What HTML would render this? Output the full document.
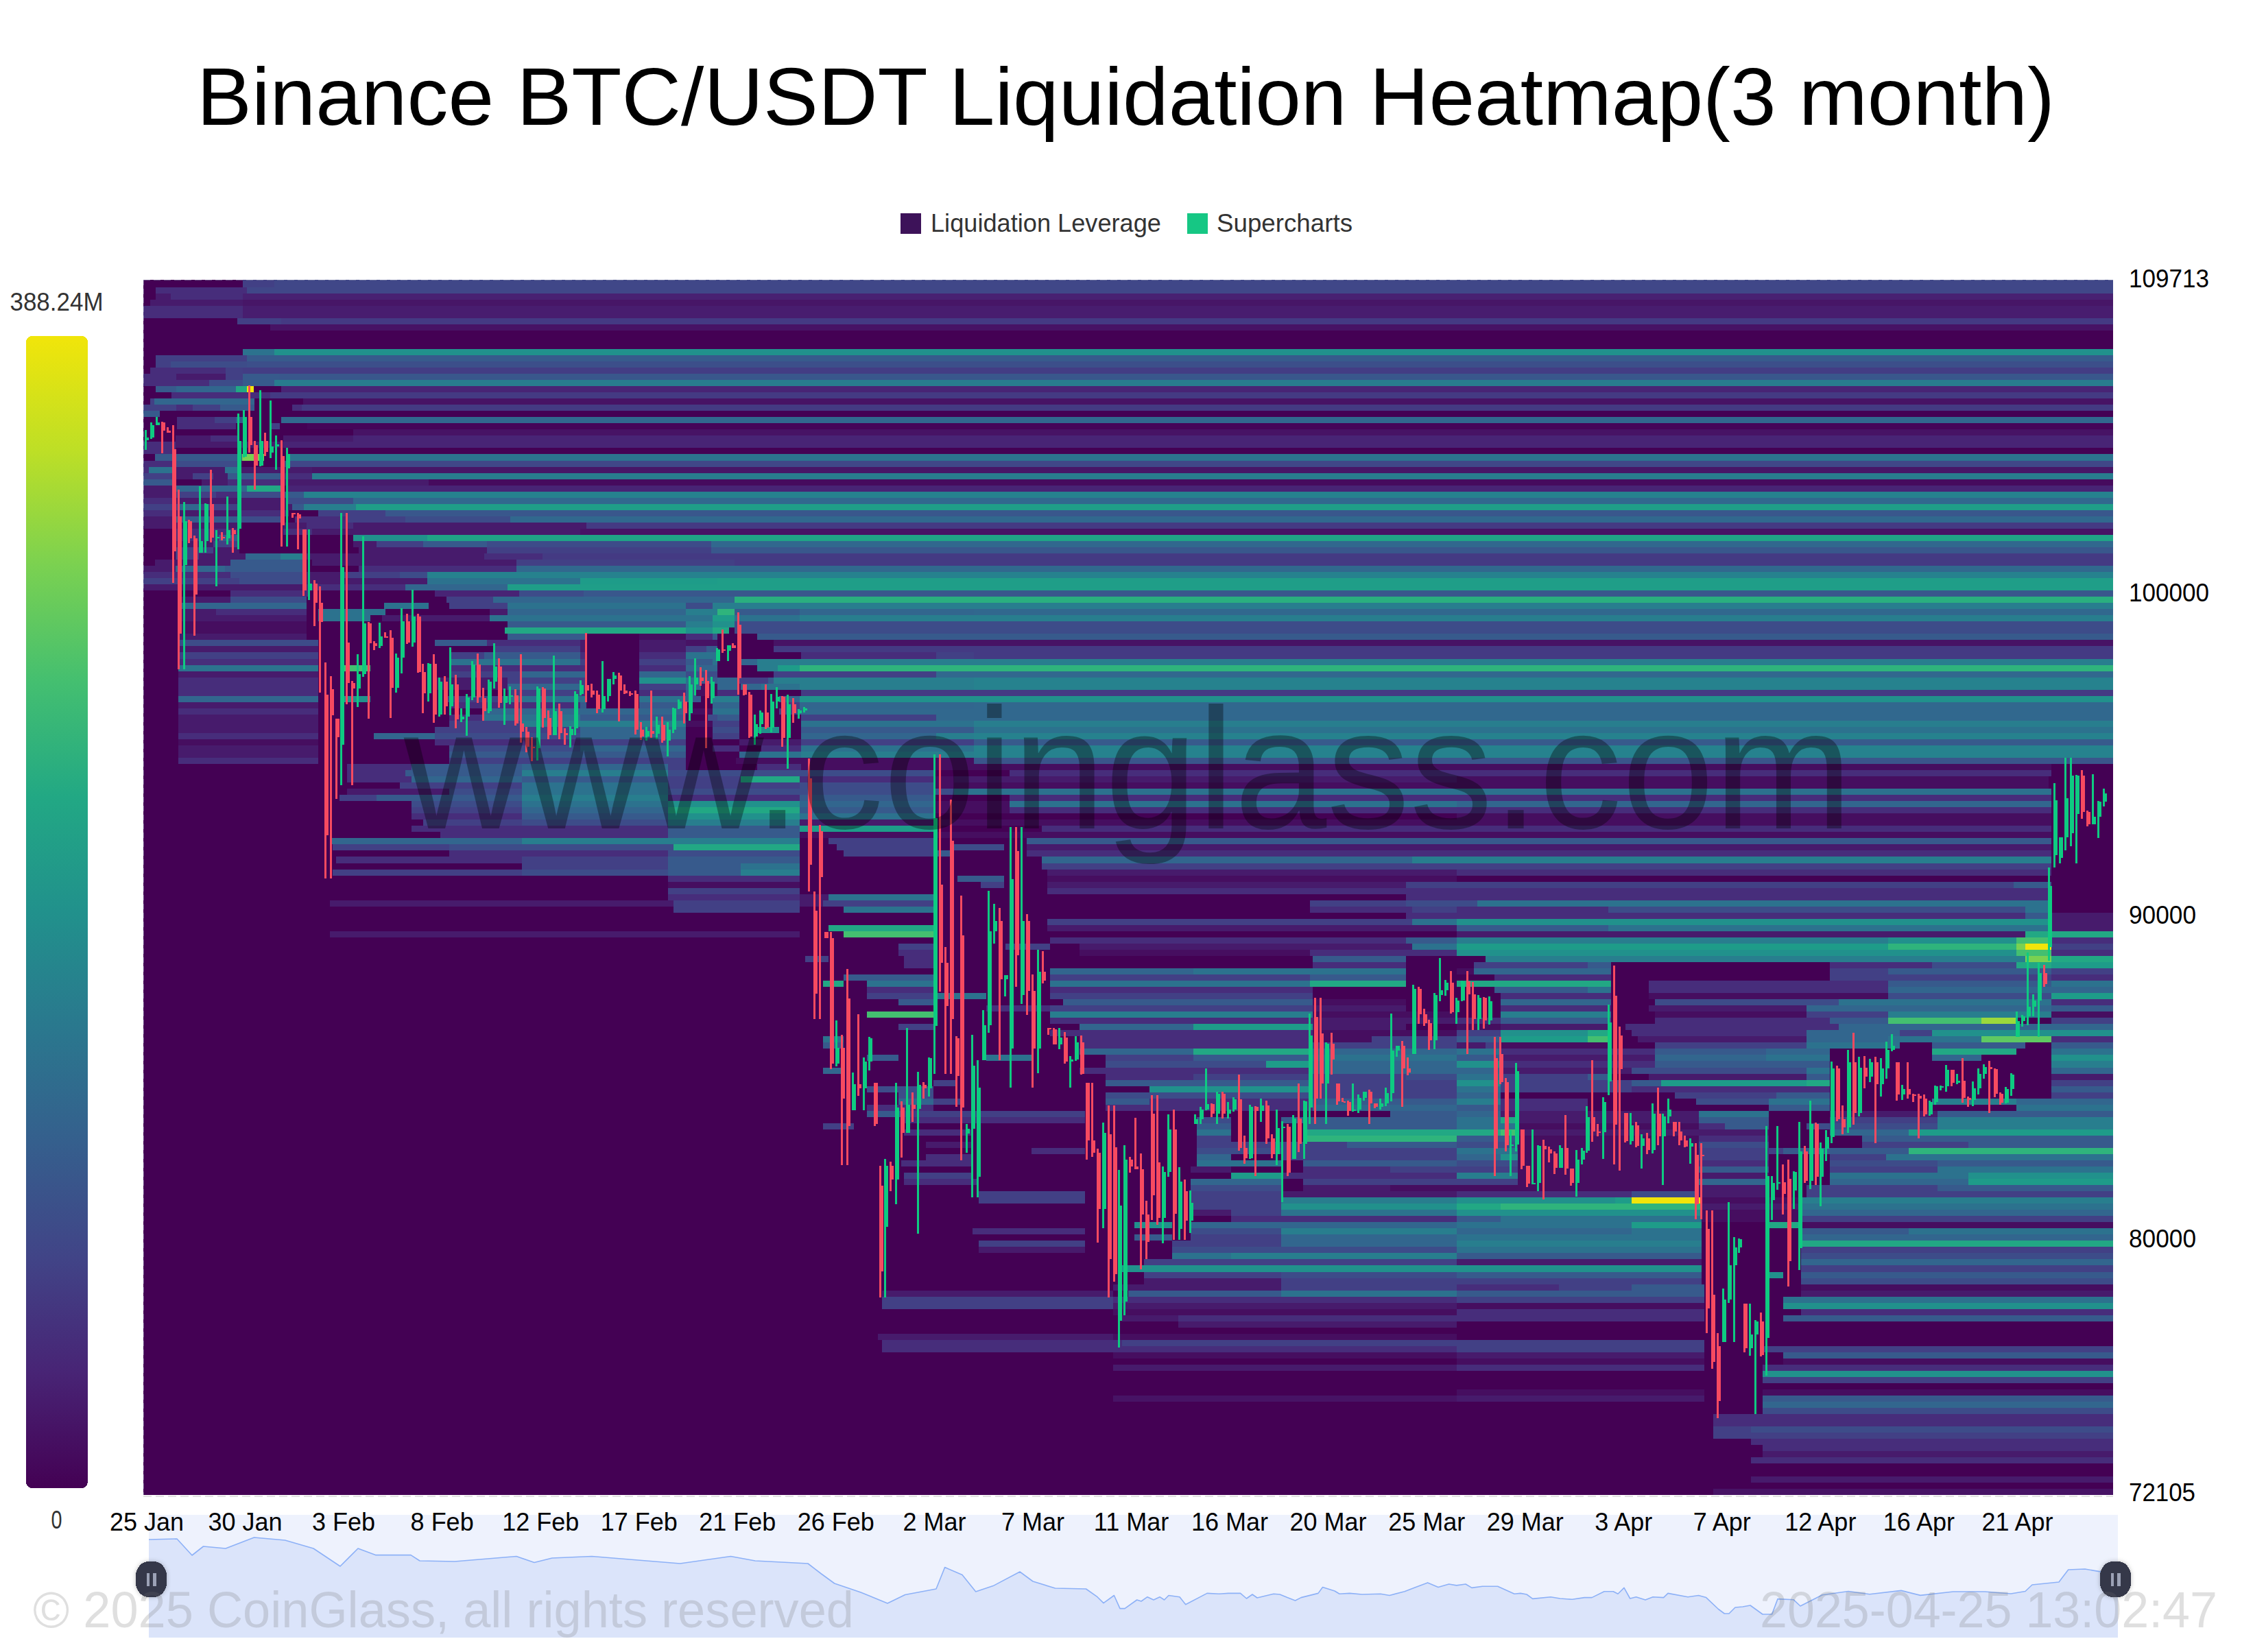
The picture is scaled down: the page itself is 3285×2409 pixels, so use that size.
<!DOCTYPE html>
<html><head><meta charset="utf-8"><style>html,body{margin:0;padding:0;background:#fff;width:3285px;height:2409px;overflow:hidden}svg{display:block}text{font-family:"Liberation Sans",sans-serif;shape-rendering:auto}</style></head>
<body><svg width="3285" height="2409" viewBox="0 0 3285 2409" font-family="Liberation Sans, sans-serif" shape-rendering="crispEdges"><text x="287" y="181.8" font-size="119" fill="#000" text-anchor="start" textLength="2709" lengthAdjust="spacingAndGlyphs" >Binance BTC/USDT Liquidation Heatmap(3 month)</text>
<rect x="1313" y="311" width="30" height="30" fill="#3d1259"/>
<text x="1357" y="338" font-size="37.5" fill="#333" text-anchor="start" textLength="336" lengthAdjust="spacingAndGlyphs" >Liquidation Leverage</text>
<rect x="1731" y="311" width="30" height="30" fill="#16c784"/>
<text x="1774" y="338" font-size="37.5" fill="#333" text-anchor="start" textLength="198" lengthAdjust="spacingAndGlyphs" >Supercharts</text>
<text x="14.5" y="453" font-size="37" fill="#333" text-anchor="start" textLength="136" lengthAdjust="spacingAndGlyphs" >388.24M</text>
<text x="74.6" y="2228.5" font-size="37" fill="#333" text-anchor="start" textLength="16" lengthAdjust="spacingAndGlyphs" >0</text>
<defs><linearGradient id="cb" x1="0" y1="0" x2="0" y2="1"><stop offset="0.00" stop-color="#f1e50a"/><stop offset="0.10" stop-color="#bddf26"/><stop offset="0.20" stop-color="#7ad151"/><stop offset="0.30" stop-color="#44bf70"/><stop offset="0.40" stop-color="#22a884"/><stop offset="0.50" stop-color="#21918c"/><stop offset="0.60" stop-color="#2a788e"/><stop offset="0.70" stop-color="#355f8d"/><stop offset="0.80" stop-color="#414487"/><stop offset="0.90" stop-color="#482475"/><stop offset="1.00" stop-color="#440154"/></linearGradient></defs>
<defs><filter id="hs" x="-50%" y="-50%" width="200%" height="200%"><feDropShadow dx="0" dy="0" stdDeviation="3" flood-color="#000" flood-opacity="0.25"/></filter></defs>
<rect x="38" y="490" width="90" height="1680" rx="9" fill="url(#cb)"/>
<rect x="209" y="408" width="2872" height="1771.6" fill="#440154"/>
<rect x="354.0" y="408.00" width="46.0" height="1.64" fill="#424085"/>
<rect x="400.0" y="408.00" width="2681.0" height="1.64" fill="#404788"/>
<rect x="354.0" y="409.64" width="46.0" height="9.03" fill="#424085"/>
<rect x="400.0" y="409.64" width="2681.0" height="9.03" fill="#404788"/>
<rect x="227.0" y="418.67" width="133.0" height="9.03" fill="#472d7b"/>
<rect x="360.0" y="418.67" width="2721.0" height="9.03" fill="#404788"/>
<rect x="227.0" y="427.70" width="22.0" height="9.03" fill="#471b6c"/>
<rect x="249.0" y="427.70" width="105.0" height="9.03" fill="#472d7b"/>
<rect x="354.0" y="427.70" width="2727.0" height="9.03" fill="#482172"/>
<rect x="219.0" y="436.73" width="135.0" height="9.03" fill="#471b6c"/>
<rect x="354.0" y="436.73" width="2727.0" height="9.03" fill="#471667"/>
<rect x="209.0" y="445.76" width="145.0" height="9.03" fill="#472d7b"/>
<rect x="354.0" y="445.76" width="2727.0" height="9.03" fill="#481d6f"/>
<rect x="209.0" y="454.79" width="145.0" height="9.03" fill="#472d7b"/>
<rect x="354.0" y="454.79" width="2727.0" height="9.03" fill="#481d6f"/>
<rect x="346.0" y="463.82" width="64.0" height="9.03" fill="#424085"/>
<rect x="410.0" y="463.82" width="2671.0" height="9.03" fill="#443a83"/>
<rect x="394.0" y="472.85" width="2687.0" height="9.03" fill="#471365"/>
<rect x="354.0" y="508.98" width="46.0" height="9.03" fill="#2c728e"/>
<rect x="400.0" y="508.98" width="2681.0" height="9.03" fill="#21918c"/>
<rect x="227.0" y="518.01" width="133.0" height="9.03" fill="#424085"/>
<rect x="360.0" y="518.01" width="2721.0" height="9.03" fill="#375a8c"/>
<rect x="227.0" y="527.04" width="22.0" height="9.03" fill="#424085"/>
<rect x="249.0" y="527.04" width="111.0" height="9.03" fill="#3d4c89"/>
<rect x="360.0" y="527.04" width="2721.0" height="9.03" fill="#3c4f8a"/>
<rect x="219.0" y="536.07" width="110.0" height="9.03" fill="#472d7b"/>
<rect x="329.0" y="536.07" width="25.0" height="9.03" fill="#424085"/>
<rect x="354.0" y="536.07" width="2727.0" height="9.03" fill="#433d84"/>
<rect x="209.0" y="545.10" width="48.0" height="9.03" fill="#472d7b"/>
<rect x="257.0" y="545.10" width="72.0" height="9.03" fill="#471b6c"/>
<rect x="329.0" y="545.10" width="25.0" height="9.03" fill="#424085"/>
<rect x="354.0" y="545.10" width="54.0" height="9.03" fill="#375a8c"/>
<rect x="408.0" y="545.10" width="2673.0" height="9.03" fill="#39578c"/>
<rect x="209.0" y="554.13" width="96.0" height="9.03" fill="#472d7b"/>
<rect x="305.0" y="554.13" width="49.0" height="9.03" fill="#3d4c89"/>
<rect x="354.0" y="554.13" width="46.0" height="9.03" fill="#375a8c"/>
<rect x="400.0" y="554.13" width="2681.0" height="9.03" fill="#287c8e"/>
<rect x="227.0" y="563.16" width="30.0" height="9.03" fill="#375a8c"/>
<rect x="257.0" y="563.16" width="87.0" height="9.03" fill="#32668e"/>
<rect x="344.0" y="563.16" width="16.0" height="9.03" fill="#22a884"/>
<rect x="360.0" y="563.16" width="10.0" height="9.03" fill="#f1e50a"/>
<rect x="410.0" y="563.16" width="2671.0" height="9.03" fill="#482475"/>
<rect x="250.0" y="572.19" width="144.0" height="9.03" fill="#472d7b"/>
<rect x="394.0" y="572.19" width="2687.0" height="9.03" fill="#443a83"/>
<rect x="219.0" y="581.22" width="6.0" height="9.03" fill="#424085"/>
<rect x="225.0" y="581.22" width="146.0" height="9.03" fill="#32668e"/>
<rect x="442.0" y="581.22" width="2639.0" height="9.03" fill="#471365"/>
<rect x="209.0" y="590.25" width="48.0" height="9.03" fill="#424085"/>
<rect x="257.0" y="590.25" width="24.0" height="9.03" fill="#472d7b"/>
<rect x="281.0" y="590.25" width="40.0" height="9.03" fill="#424085"/>
<rect x="321.0" y="590.25" width="50.0" height="9.03" fill="#375a8c"/>
<rect x="426.0" y="590.25" width="14.0" height="9.03" fill="#472d7b"/>
<rect x="440.0" y="590.25" width="2641.0" height="9.03" fill="#443a83"/>
<rect x="209.0" y="599.28" width="24.0" height="9.03" fill="#375a8c"/>
<rect x="258.0" y="608.31" width="55.0" height="9.03" fill="#472d7b"/>
<rect x="313.0" y="608.31" width="31.0" height="9.03" fill="#424085"/>
<rect x="344.0" y="608.31" width="10.0" height="9.03" fill="#375a8c"/>
<rect x="410.0" y="608.31" width="2671.0" height="9.03" fill="#31688e"/>
<rect x="258.0" y="617.34" width="86.0" height="9.03" fill="#472d7b"/>
<rect x="394.0" y="617.34" width="14.0" height="9.03" fill="#424085"/>
<rect x="448.0" y="617.34" width="2633.0" height="9.03" fill="#450659"/>
<rect x="515.0" y="626.37" width="2566.0" height="9.03" fill="#471365"/>
<rect x="256.0" y="635.40" width="51.0" height="9.03" fill="#471b6c"/>
<rect x="307.0" y="635.40" width="42.0" height="9.03" fill="#472d7b"/>
<rect x="413.0" y="635.40" width="102.0" height="9.03" fill="#471b6c"/>
<rect x="515.0" y="635.40" width="2566.0" height="9.03" fill="#482475"/>
<rect x="209.0" y="644.43" width="47.0" height="9.03" fill="#472d7b"/>
<rect x="256.0" y="644.43" width="157.0" height="9.03" fill="#471b6c"/>
<rect x="413.0" y="644.43" width="2668.0" height="9.03" fill="#482475"/>
<rect x="209.0" y="653.46" width="47.0" height="9.03" fill="#472d7b"/>
<rect x="226.0" y="662.49" width="127.0" height="9.03" fill="#375a8c"/>
<rect x="353.0" y="662.49" width="32.0" height="9.03" fill="#7ad151"/>
<rect x="417.0" y="662.49" width="2664.0" height="9.03" fill="#2c728e"/>
<rect x="209.0" y="671.52" width="47.0" height="9.03" fill="#472d7b"/>
<rect x="256.0" y="671.52" width="93.0" height="9.03" fill="#3d4c89"/>
<rect x="413.0" y="671.52" width="2668.0" height="9.03" fill="#404788"/>
<rect x="209.0" y="680.55" width="8.0" height="9.03" fill="#472d7b"/>
<rect x="217.0" y="680.55" width="39.0" height="9.03" fill="#2c728e"/>
<rect x="256.0" y="680.55" width="72.0" height="9.03" fill="#471b6c"/>
<rect x="328.0" y="680.55" width="21.0" height="9.03" fill="#2c728e"/>
<rect x="349.0" y="680.55" width="106.0" height="9.03" fill="#471b6c"/>
<rect x="455.0" y="680.55" width="2626.0" height="9.03" fill="#471667"/>
<rect x="209.0" y="689.58" width="47.0" height="9.03" fill="#424085"/>
<rect x="256.0" y="689.58" width="25.0" height="9.03" fill="#471b6c"/>
<rect x="281.0" y="689.58" width="30.0" height="9.03" fill="#424085"/>
<rect x="311.0" y="689.58" width="21.0" height="9.03" fill="#471b6c"/>
<rect x="332.0" y="689.58" width="77.0" height="9.03" fill="#375a8c"/>
<rect x="409.0" y="689.58" width="46.0" height="9.03" fill="#472d7b"/>
<rect x="455.0" y="689.58" width="2626.0" height="9.03" fill="#287c8e"/>
<rect x="209.0" y="698.61" width="47.0" height="9.03" fill="#375a8c"/>
<rect x="294.0" y="698.61" width="38.0" height="9.03" fill="#471b6c"/>
<rect x="332.0" y="698.61" width="81.0" height="9.03" fill="#472d7b"/>
<rect x="413.0" y="698.61" width="212.0" height="9.03" fill="#471b6c"/>
<rect x="625.0" y="698.61" width="2456.0" height="9.03" fill="#460b5e"/>
<rect x="209.0" y="707.64" width="47.0" height="9.03" fill="#471b6c"/>
<rect x="256.0" y="707.64" width="104.0" height="9.03" fill="#32668e"/>
<rect x="360.0" y="707.64" width="49.0" height="9.03" fill="#22a884"/>
<rect x="417.0" y="707.64" width="26.0" height="9.03" fill="#482475"/>
<rect x="443.0" y="707.64" width="2638.0" height="9.03" fill="#482475"/>
<rect x="209.0" y="716.68" width="47.0" height="9.03" fill="#471b6c"/>
<rect x="256.0" y="716.68" width="59.0" height="9.03" fill="#424085"/>
<rect x="315.0" y="716.68" width="34.0" height="9.03" fill="#472d7b"/>
<rect x="349.0" y="716.68" width="68.0" height="9.03" fill="#3d4c89"/>
<rect x="417.0" y="716.68" width="26.0" height="9.03" fill="#375a8c"/>
<rect x="443.0" y="716.68" width="2638.0" height="9.03" fill="#26828e"/>
<rect x="209.0" y="725.71" width="47.0" height="9.03" fill="#472d7b"/>
<rect x="256.0" y="725.71" width="161.0" height="9.03" fill="#471b6c"/>
<rect x="417.0" y="725.71" width="98.0" height="9.03" fill="#3d4c89"/>
<rect x="515.0" y="725.71" width="2566.0" height="9.03" fill="#31688e"/>
<rect x="209.0" y="734.74" width="51.0" height="9.03" fill="#424085"/>
<rect x="260.0" y="734.74" width="30.0" height="9.03" fill="#32668e"/>
<rect x="290.0" y="734.74" width="59.0" height="9.03" fill="#424085"/>
<rect x="349.0" y="734.74" width="77.0" height="9.03" fill="#471b6c"/>
<rect x="426.0" y="734.74" width="17.0" height="9.03" fill="#375a8c"/>
<rect x="443.0" y="734.74" width="76.0" height="9.03" fill="#287e8e"/>
<rect x="519.0" y="734.74" width="2562.0" height="9.03" fill="#1f9e88"/>
<rect x="209.0" y="743.77" width="47.0" height="9.03" fill="#472d7b"/>
<rect x="256.0" y="743.77" width="93.0" height="9.03" fill="#471b6c"/>
<rect x="349.0" y="743.77" width="72.0" height="9.03" fill="#472d7b"/>
<rect x="464.0" y="743.77" width="98.0" height="9.03" fill="#424085"/>
<rect x="562.0" y="743.77" width="2519.0" height="9.03" fill="#39578c"/>
<rect x="209.0" y="752.80" width="47.0" height="9.03" fill="#471b6c"/>
<rect x="256.0" y="752.80" width="93.0" height="9.03" fill="#375a8c"/>
<rect x="349.0" y="752.80" width="60.0" height="9.03" fill="#3d4c89"/>
<rect x="430.0" y="752.80" width="76.0" height="9.03" fill="#472d7b"/>
<rect x="506.0" y="752.80" width="85.0" height="9.03" fill="#424085"/>
<rect x="591.0" y="752.80" width="153.0" height="9.03" fill="#3d4c89"/>
<rect x="744.0" y="752.80" width="2337.0" height="9.03" fill="#31688e"/>
<rect x="209.0" y="761.83" width="140.0" height="9.03" fill="#471b6c"/>
<rect x="413.0" y="761.83" width="34.0" height="9.03" fill="#471b6c"/>
<rect x="447.0" y="761.83" width="68.0" height="9.03" fill="#472d7b"/>
<rect x="515.0" y="761.83" width="340.0" height="9.03" fill="#471b6c"/>
<rect x="855.0" y="761.83" width="2226.0" height="9.03" fill="#443a83"/>
<rect x="256.0" y="770.86" width="93.0" height="9.03" fill="#472d7b"/>
<rect x="413.0" y="770.86" width="42.0" height="9.03" fill="#472d7b"/>
<rect x="455.0" y="770.86" width="391.0" height="9.03" fill="#471b6c"/>
<rect x="846.0" y="770.86" width="2235.0" height="9.03" fill="#471365"/>
<rect x="256.0" y="779.89" width="63.0" height="9.03" fill="#472d7b"/>
<rect x="319.0" y="779.89" width="30.0" height="9.03" fill="#375a8c"/>
<rect x="515.0" y="779.89" width="108.0" height="9.03" fill="#21918c"/>
<rect x="623.0" y="779.89" width="2458.0" height="9.03" fill="#20a386"/>
<rect x="256.0" y="788.92" width="55.0" height="9.03" fill="#471b6c"/>
<rect x="311.0" y="788.92" width="38.0" height="9.03" fill="#424085"/>
<rect x="515.0" y="788.92" width="34.0" height="9.03" fill="#471b6c"/>
<rect x="549.0" y="788.92" width="68.0" height="9.03" fill="#424085"/>
<rect x="617.0" y="788.92" width="93.0" height="9.03" fill="#375a8c"/>
<rect x="710.0" y="788.92" width="327.0" height="9.03" fill="#3d4c89"/>
<rect x="1037.0" y="788.92" width="2044.0" height="9.03" fill="#31688e"/>
<rect x="256.0" y="797.95" width="55.0" height="9.03" fill="#424085"/>
<rect x="311.0" y="797.95" width="38.0" height="9.03" fill="#471b6c"/>
<rect x="523.0" y="797.95" width="187.0" height="9.03" fill="#471b6c"/>
<rect x="710.0" y="797.95" width="327.0" height="9.03" fill="#424085"/>
<rect x="1037.0" y="797.95" width="2044.0" height="9.03" fill="#39578c"/>
<rect x="256.0" y="806.98" width="34.0" height="9.03" fill="#424085"/>
<rect x="290.0" y="806.98" width="68.0" height="9.03" fill="#471b6c"/>
<rect x="358.0" y="806.98" width="51.0" height="9.03" fill="#32668e"/>
<rect x="409.0" y="806.98" width="34.0" height="9.03" fill="#287e8e"/>
<rect x="443.0" y="806.98" width="263.0" height="9.03" fill="#471b6c"/>
<rect x="706.0" y="806.98" width="85.0" height="9.03" fill="#472d7b"/>
<rect x="791.0" y="806.98" width="2290.0" height="9.03" fill="#443a83"/>
<rect x="226.0" y="816.01" width="110.0" height="9.03" fill="#471b6c"/>
<rect x="336.0" y="816.01" width="107.0" height="9.03" fill="#375a8c"/>
<rect x="455.0" y="816.01" width="298.0" height="9.03" fill="#471b6c"/>
<rect x="753.0" y="816.01" width="318.0" height="9.03" fill="#424085"/>
<rect x="1071.0" y="816.01" width="2010.0" height="9.03" fill="#443a83"/>
<rect x="209.0" y="825.04" width="47.0" height="9.03" fill="#471b6c"/>
<rect x="256.0" y="825.04" width="72.0" height="9.03" fill="#32668e"/>
<rect x="328.0" y="825.04" width="115.0" height="9.03" fill="#375a8c"/>
<rect x="523.0" y="825.04" width="230.0" height="9.03" fill="#472d7b"/>
<rect x="753.0" y="825.04" width="2328.0" height="9.03" fill="#31688e"/>
<rect x="209.0" y="834.07" width="127.0" height="9.03" fill="#472d7b"/>
<rect x="336.0" y="834.07" width="107.0" height="9.03" fill="#3d4c89"/>
<rect x="443.0" y="834.07" width="55.0" height="9.03" fill="#471b6c"/>
<rect x="498.0" y="834.07" width="85.0" height="9.03" fill="#424085"/>
<rect x="583.0" y="834.07" width="40.0" height="9.03" fill="#3d4c89"/>
<rect x="623.0" y="834.07" width="2458.0" height="9.03" fill="#26828e"/>
<rect x="209.0" y="843.10" width="140.0" height="9.03" fill="#424085"/>
<rect x="349.0" y="843.10" width="94.0" height="9.03" fill="#3d4c89"/>
<rect x="443.0" y="843.10" width="180.0" height="9.03" fill="#471b6c"/>
<rect x="623.0" y="843.10" width="223.0" height="9.03" fill="#2c728e"/>
<rect x="846.0" y="843.10" width="200.0" height="9.03" fill="#1e9c89"/>
<rect x="1046.0" y="843.10" width="2035.0" height="9.03" fill="#1f9e88"/>
<rect x="209.0" y="852.13" width="234.0" height="9.03" fill="#471b6c"/>
<rect x="443.0" y="852.13" width="148.0" height="9.03" fill="#472d7b"/>
<rect x="591.0" y="852.13" width="149.0" height="9.03" fill="#32668e"/>
<rect x="740.0" y="852.13" width="2341.0" height="9.03" fill="#1f9e88"/>
<rect x="336.0" y="861.16" width="115.0" height="9.03" fill="#472d7b"/>
<rect x="634.0" y="861.16" width="123.0" height="9.03" fill="#482475"/>
<rect x="757.0" y="861.16" width="94.0" height="9.03" fill="#3d4c89"/>
<rect x="851.0" y="861.16" width="2230.0" height="9.03" fill="#39578c"/>
<rect x="260.0" y="870.19" width="76.0" height="9.03" fill="#471b6c"/>
<rect x="336.0" y="870.19" width="111.0" height="9.03" fill="#3d4c89"/>
<rect x="651.0" y="870.19" width="68.0" height="9.03" fill="#424085"/>
<rect x="719.0" y="870.19" width="352.0" height="9.03" fill="#32668e"/>
<rect x="1071.0" y="870.19" width="2010.0" height="9.03" fill="#2aaf7f"/>
<rect x="260.0" y="879.22" width="187.0" height="9.03" fill="#32668e"/>
<rect x="560.0" y="879.22" width="65.0" height="9.03" fill="#2c728e"/>
<rect x="655.0" y="879.22" width="85.0" height="9.03" fill="#424085"/>
<rect x="740.0" y="879.22" width="260.0" height="9.03" fill="#2c728e"/>
<rect x="1000.0" y="879.22" width="39.0" height="9.03" fill="#3d4c89"/>
<rect x="1039.0" y="879.22" width="381.0" height="9.03" fill="#287e8e"/>
<rect x="1420.0" y="879.22" width="1661.0" height="9.03" fill="#287e8e"/>
<rect x="260.0" y="888.25" width="55.0" height="9.03" fill="#471b6c"/>
<rect x="315.0" y="888.25" width="132.0" height="9.03" fill="#472d7b"/>
<rect x="464.0" y="888.25" width="98.0" height="9.03" fill="#2c728e"/>
<rect x="714.0" y="888.25" width="26.0" height="9.03" fill="#471b6c"/>
<rect x="740.0" y="888.25" width="260.0" height="9.03" fill="#32668e"/>
<rect x="1000.0" y="888.25" width="46.0" height="9.03" fill="#287e8e"/>
<rect x="1046.0" y="888.25" width="25.0" height="9.03" fill="#2fb47c"/>
<rect x="1071.0" y="888.25" width="95.0" height="9.03" fill="#375a8c"/>
<rect x="1166.0" y="888.25" width="254.0" height="9.03" fill="#32668e"/>
<rect x="1420.0" y="888.25" width="1661.0" height="9.03" fill="#31688e"/>
<rect x="260.0" y="897.28" width="187.0" height="9.03" fill="#471b6c"/>
<rect x="464.0" y="897.28" width="76.0" height="9.03" fill="#2c728e"/>
<rect x="557.0" y="897.28" width="157.0" height="9.03" fill="#471b6c"/>
<rect x="714.0" y="897.28" width="286.0" height="9.03" fill="#2c728e"/>
<rect x="1000.0" y="897.28" width="39.0" height="9.03" fill="#2c728e"/>
<rect x="1039.0" y="897.28" width="32.0" height="9.03" fill="#1e9c89"/>
<rect x="1071.0" y="897.28" width="95.0" height="9.03" fill="#2c728e"/>
<rect x="1166.0" y="897.28" width="254.0" height="9.03" fill="#287e8e"/>
<rect x="1420.0" y="897.28" width="1661.0" height="9.03" fill="#287e8e"/>
<rect x="260.0" y="906.31" width="187.0" height="9.03" fill="#460e60"/>
<rect x="740.0" y="906.31" width="260.0" height="9.03" fill="#375a8c"/>
<rect x="1000.0" y="906.31" width="39.0" height="9.03" fill="#287e8e"/>
<rect x="1039.0" y="906.31" width="32.0" height="9.03" fill="#21918c"/>
<rect x="1071.0" y="906.31" width="349.0" height="9.03" fill="#3d4c89"/>
<rect x="1420.0" y="906.31" width="1661.0" height="9.03" fill="#3d4c89"/>
<rect x="260.0" y="915.34" width="187.0" height="9.03" fill="#460e60"/>
<rect x="736.0" y="915.34" width="264.0" height="9.03" fill="#22a884"/>
<rect x="1000.0" y="915.34" width="39.0" height="9.03" fill="#21918c"/>
<rect x="1039.0" y="915.34" width="24.0" height="9.03" fill="#22a884"/>
<rect x="1071.0" y="915.34" width="349.0" height="9.03" fill="#3d4c89"/>
<rect x="1420.0" y="915.34" width="1661.0" height="9.03" fill="#3d4c89"/>
<rect x="260.0" y="924.37" width="187.0" height="9.03" fill="#471b6c"/>
<rect x="740.0" y="924.37" width="115.0" height="9.03" fill="#375a8c"/>
<rect x="932.0" y="924.37" width="68.0" height="9.03" fill="#460e60"/>
<rect x="1000.0" y="924.37" width="39.0" height="9.03" fill="#472d7b"/>
<rect x="1039.0" y="924.37" width="7.0" height="9.03" fill="#375a8c"/>
<rect x="1104.0" y="924.37" width="316.0" height="9.03" fill="#375a8c"/>
<rect x="1420.0" y="924.37" width="1661.0" height="9.03" fill="#375a8c"/>
<rect x="260.0" y="933.40" width="204.0" height="9.03" fill="#3d4c89"/>
<rect x="634.0" y="933.40" width="76.0" height="9.03" fill="#375a8c"/>
<rect x="710.0" y="933.40" width="136.0" height="9.03" fill="#472d7b"/>
<rect x="846.0" y="933.40" width="9.0" height="9.03" fill="#471b6c"/>
<rect x="932.0" y="933.40" width="68.0" height="9.03" fill="#471b6c"/>
<rect x="1000.0" y="933.40" width="46.0" height="9.03" fill="#471365"/>
<rect x="1128.0" y="933.40" width="292.0" height="9.03" fill="#471365"/>
<rect x="1420.0" y="933.40" width="1661.0" height="9.03" fill="#471365"/>
<rect x="260.0" y="942.44" width="204.0" height="9.03" fill="#471b6c"/>
<rect x="719.0" y="942.44" width="127.0" height="9.03" fill="#424085"/>
<rect x="846.0" y="942.44" width="9.0" height="9.03" fill="#471b6c"/>
<rect x="932.0" y="942.44" width="68.0" height="9.03" fill="#471b6c"/>
<rect x="1000.0" y="942.44" width="30.0" height="9.03" fill="#424085"/>
<rect x="1030.0" y="942.44" width="16.0" height="9.03" fill="#375a8c"/>
<rect x="1128.0" y="942.44" width="292.0" height="9.03" fill="#443a83"/>
<rect x="1420.0" y="942.44" width="1661.0" height="9.03" fill="#443a83"/>
<rect x="260.0" y="951.47" width="204.0" height="9.03" fill="#424085"/>
<rect x="655.0" y="951.47" width="51.0" height="9.03" fill="#424085"/>
<rect x="706.0" y="951.47" width="140.0" height="9.03" fill="#375a8c"/>
<rect x="846.0" y="951.47" width="9.0" height="9.03" fill="#472d7b"/>
<rect x="932.0" y="951.47" width="68.0" height="9.03" fill="#472d7b"/>
<rect x="1000.0" y="951.47" width="46.0" height="9.03" fill="#2c728e"/>
<rect x="1168.0" y="951.47" width="197.0" height="9.03" fill="#472d7b"/>
<rect x="1365.0" y="951.47" width="55.0" height="9.03" fill="#424085"/>
<rect x="1420.0" y="951.47" width="1661.0" height="9.03" fill="#443a83"/>
<rect x="260.0" y="960.50" width="204.0" height="9.03" fill="#472d7b"/>
<rect x="655.0" y="960.50" width="191.0" height="9.03" fill="#2c728e"/>
<rect x="846.0" y="960.50" width="9.0" height="9.03" fill="#424085"/>
<rect x="932.0" y="960.50" width="68.0" height="9.03" fill="#424085"/>
<rect x="1000.0" y="960.50" width="39.0" height="9.03" fill="#375a8c"/>
<rect x="1039.0" y="960.50" width="7.0" height="9.03" fill="#2c728e"/>
<rect x="1078.0" y="960.50" width="26.0" height="9.03" fill="#32668e"/>
<rect x="1104.0" y="960.50" width="316.0" height="9.03" fill="#287e8e"/>
<rect x="1420.0" y="960.50" width="1661.0" height="9.03" fill="#287e8e"/>
<rect x="260.0" y="969.53" width="204.0" height="9.03" fill="#2c728e"/>
<rect x="502.0" y="969.53" width="38.0" height="9.03" fill="#44bf70"/>
<rect x="655.0" y="969.53" width="200.0" height="9.03" fill="#472d7b"/>
<rect x="932.0" y="969.53" width="68.0" height="9.03" fill="#472d7b"/>
<rect x="1000.0" y="969.53" width="46.0" height="9.03" fill="#32668e"/>
<rect x="1104.0" y="969.53" width="30.0" height="9.03" fill="#287e8e"/>
<rect x="1134.0" y="969.53" width="32.0" height="9.03" fill="#1e9c89"/>
<rect x="1166.0" y="969.53" width="254.0" height="9.03" fill="#2fb47c"/>
<rect x="1420.0" y="969.53" width="1661.0" height="9.03" fill="#2fb47c"/>
<rect x="260.0" y="978.56" width="204.0" height="9.03" fill="#471b6c"/>
<rect x="655.0" y="978.56" width="106.0" height="9.03" fill="#424085"/>
<rect x="761.0" y="978.56" width="94.0" height="9.03" fill="#32668e"/>
<rect x="932.0" y="978.56" width="68.0" height="9.03" fill="#32668e"/>
<rect x="1000.0" y="978.56" width="46.0" height="9.03" fill="#3d4c89"/>
<rect x="1128.0" y="978.56" width="237.0" height="9.03" fill="#424085"/>
<rect x="1365.0" y="978.56" width="55.0" height="9.03" fill="#31688e"/>
<rect x="1420.0" y="978.56" width="1661.0" height="9.03" fill="#31688e"/>
<rect x="260.0" y="987.59" width="204.0" height="9.03" fill="#472d7b"/>
<rect x="634.0" y="987.59" width="106.0" height="9.03" fill="#471b6c"/>
<rect x="740.0" y="987.59" width="115.0" height="9.03" fill="#424085"/>
<rect x="932.0" y="987.59" width="68.0" height="9.03" fill="#21918c"/>
<rect x="1000.0" y="987.59" width="22.0" height="9.03" fill="#2c728e"/>
<rect x="1022.0" y="987.59" width="24.0" height="9.03" fill="#375a8c"/>
<rect x="1046.0" y="987.59" width="32.0" height="9.03" fill="#32668e"/>
<rect x="1078.0" y="987.59" width="42.0" height="9.03" fill="#424085"/>
<rect x="1120.0" y="987.59" width="8.0" height="9.03" fill="#375a8c"/>
<rect x="1128.0" y="987.59" width="292.0" height="9.03" fill="#287e8e"/>
<rect x="1420.0" y="987.59" width="1661.0" height="9.03" fill="#26828e"/>
<rect x="260.0" y="996.62" width="204.0" height="9.03" fill="#472d7b"/>
<rect x="634.0" y="996.62" width="106.0" height="9.03" fill="#471b6c"/>
<rect x="740.0" y="996.62" width="106.0" height="9.03" fill="#32668e"/>
<rect x="846.0" y="996.62" width="9.0" height="9.03" fill="#424085"/>
<rect x="932.0" y="996.62" width="68.0" height="9.03" fill="#424085"/>
<rect x="1000.0" y="996.62" width="22.0" height="9.03" fill="#32668e"/>
<rect x="1022.0" y="996.62" width="24.0" height="9.03" fill="#460e60"/>
<rect x="1046.0" y="996.62" width="32.0" height="9.03" fill="#32668e"/>
<rect x="1078.0" y="996.62" width="2.0" height="9.03" fill="#460e60"/>
<rect x="1080.0" y="996.62" width="30.0" height="9.03" fill="#32668e"/>
<rect x="1110.0" y="996.62" width="56.0" height="9.03" fill="#2c728e"/>
<rect x="1166.0" y="996.62" width="254.0" height="9.03" fill="#287e8e"/>
<rect x="1420.0" y="996.62" width="1661.0" height="9.03" fill="#26828e"/>
<rect x="260.0" y="1005.65" width="204.0" height="9.03" fill="#472d7b"/>
<rect x="740.0" y="1005.65" width="106.0" height="9.03" fill="#424085"/>
<rect x="846.0" y="1005.65" width="9.0" height="9.03" fill="#472d7b"/>
<rect x="932.0" y="1005.65" width="68.0" height="9.03" fill="#472d7b"/>
<rect x="1000.0" y="1005.65" width="15.0" height="9.03" fill="#375a8c"/>
<rect x="1015.0" y="1005.65" width="31.0" height="9.03" fill="#460e60"/>
<rect x="1046.0" y="1005.65" width="32.0" height="9.03" fill="#472d7b"/>
<rect x="1168.0" y="1005.65" width="252.0" height="9.03" fill="#443a83"/>
<rect x="1420.0" y="1005.65" width="1661.0" height="9.03" fill="#443a83"/>
<rect x="260.0" y="1014.68" width="204.0" height="9.03" fill="#32668e"/>
<rect x="502.0" y="1014.68" width="38.0" height="9.03" fill="#21918c"/>
<rect x="651.0" y="1014.68" width="89.0" height="9.03" fill="#424085"/>
<rect x="740.0" y="1014.68" width="115.0" height="9.03" fill="#2c728e"/>
<rect x="932.0" y="1014.68" width="68.0" height="9.03" fill="#2c728e"/>
<rect x="1000.0" y="1014.68" width="22.0" height="9.03" fill="#375a8c"/>
<rect x="1039.0" y="1014.68" width="39.0" height="9.03" fill="#287e8e"/>
<rect x="1136.0" y="1014.68" width="30.0" height="9.03" fill="#32668e"/>
<rect x="1166.0" y="1014.68" width="254.0" height="9.03" fill="#21918c"/>
<rect x="1420.0" y="1014.68" width="1661.0" height="9.03" fill="#21918c"/>
<rect x="260.0" y="1023.71" width="204.0" height="9.03" fill="#471b6c"/>
<rect x="655.0" y="1023.71" width="191.0" height="9.03" fill="#472d7b"/>
<rect x="846.0" y="1023.71" width="9.0" height="9.03" fill="#375a8c"/>
<rect x="932.0" y="1023.71" width="68.0" height="9.03" fill="#375a8c"/>
<rect x="1039.0" y="1023.71" width="39.0" height="9.03" fill="#32668e"/>
<rect x="1143.0" y="1023.71" width="23.0" height="9.03" fill="#424085"/>
<rect x="1166.0" y="1023.71" width="254.0" height="9.03" fill="#32668e"/>
<rect x="1420.0" y="1023.71" width="1661.0" height="9.03" fill="#31688e"/>
<rect x="260.0" y="1032.74" width="204.0" height="9.03" fill="#472d7b"/>
<rect x="706.0" y="1032.74" width="294.0" height="9.03" fill="#32668e"/>
<rect x="1000.0" y="1032.74" width="39.0" height="9.03" fill="#460e60"/>
<rect x="1039.0" y="1032.74" width="39.0" height="9.03" fill="#2c728e"/>
<rect x="1136.0" y="1032.74" width="30.0" height="9.03" fill="#424085"/>
<rect x="1166.0" y="1032.74" width="254.0" height="9.03" fill="#31688e"/>
<rect x="1420.0" y="1032.74" width="1661.0" height="9.03" fill="#31688e"/>
<rect x="260.0" y="1041.77" width="204.0" height="9.03" fill="#471b6c"/>
<rect x="655.0" y="1041.77" width="51.0" height="9.03" fill="#472d7b"/>
<rect x="706.0" y="1041.77" width="140.0" height="9.03" fill="#2c728e"/>
<rect x="846.0" y="1041.77" width="154.0" height="9.03" fill="#375a8c"/>
<rect x="1032.0" y="1041.77" width="14.0" height="9.03" fill="#3d4c89"/>
<rect x="1046.0" y="1041.77" width="32.0" height="9.03" fill="#375a8c"/>
<rect x="1168.0" y="1041.77" width="197.0" height="9.03" fill="#424085"/>
<rect x="1365.0" y="1041.77" width="55.0" height="9.03" fill="#31688e"/>
<rect x="1420.0" y="1041.77" width="1661.0" height="9.03" fill="#31688e"/>
<rect x="260.0" y="1050.80" width="204.0" height="9.03" fill="#471b6c"/>
<rect x="655.0" y="1050.80" width="106.0" height="9.03" fill="#424085"/>
<rect x="761.0" y="1050.80" width="239.0" height="9.03" fill="#287e8e"/>
<rect x="1000.0" y="1050.80" width="39.0" height="9.03" fill="#460e60"/>
<rect x="1039.0" y="1050.80" width="39.0" height="9.03" fill="#424085"/>
<rect x="1168.0" y="1050.80" width="252.0" height="9.03" fill="#2c728e"/>
<rect x="1420.0" y="1050.80" width="1661.0" height="9.03" fill="#287e8e"/>
<rect x="260.0" y="1059.83" width="204.0" height="9.03" fill="#471b6c"/>
<rect x="634.0" y="1059.83" width="212.0" height="9.03" fill="#424085"/>
<rect x="846.0" y="1059.83" width="154.0" height="9.03" fill="#32668e"/>
<rect x="1039.0" y="1059.83" width="39.0" height="9.03" fill="#3d4c89"/>
<rect x="1104.0" y="1059.83" width="32.0" height="9.03" fill="#21918c"/>
<rect x="1168.0" y="1059.83" width="252.0" height="9.03" fill="#375a8c"/>
<rect x="1420.0" y="1059.83" width="1661.0" height="9.03" fill="#2c728e"/>
<rect x="260.0" y="1068.86" width="204.0" height="9.03" fill="#472d7b"/>
<rect x="545.0" y="1068.86" width="89.0" height="9.03" fill="#32668e"/>
<rect x="634.0" y="1068.86" width="212.0" height="9.03" fill="#3d4c89"/>
<rect x="846.0" y="1068.86" width="154.0" height="9.03" fill="#32668e"/>
<rect x="1039.0" y="1068.86" width="39.0" height="9.03" fill="#424085"/>
<rect x="1168.0" y="1068.86" width="197.0" height="9.03" fill="#32668e"/>
<rect x="1365.0" y="1068.86" width="55.0" height="9.03" fill="#287e8e"/>
<rect x="1420.0" y="1068.86" width="1661.0" height="9.03" fill="#26828e"/>
<rect x="260.0" y="1077.89" width="204.0" height="9.03" fill="#460e60"/>
<rect x="634.0" y="1077.89" width="212.0" height="9.03" fill="#472d7b"/>
<rect x="846.0" y="1077.89" width="154.0" height="9.03" fill="#424085"/>
<rect x="1078.0" y="1077.89" width="90.0" height="9.03" fill="#471b6c"/>
<rect x="1168.0" y="1077.89" width="252.0" height="9.03" fill="#424085"/>
<rect x="1420.0" y="1077.89" width="1661.0" height="9.03" fill="#375a8c"/>
<rect x="260.0" y="1086.92" width="204.0" height="9.03" fill="#471b6c"/>
<rect x="655.0" y="1086.92" width="191.0" height="9.03" fill="#3d4c89"/>
<rect x="846.0" y="1086.92" width="154.0" height="9.03" fill="#32668e"/>
<rect x="1039.0" y="1086.92" width="39.0" height="9.03" fill="#472d7b"/>
<rect x="1110.0" y="1086.92" width="58.0" height="9.03" fill="#472d7b"/>
<rect x="1168.0" y="1086.92" width="252.0" height="9.03" fill="#2c728e"/>
<rect x="1420.0" y="1086.92" width="1661.0" height="9.03" fill="#26828e"/>
<rect x="260.0" y="1095.95" width="204.0" height="9.03" fill="#471b6c"/>
<rect x="655.0" y="1095.95" width="345.0" height="9.03" fill="#375a8c"/>
<rect x="1078.0" y="1095.95" width="26.0" height="9.03" fill="#32668e"/>
<rect x="1104.0" y="1095.95" width="64.0" height="9.03" fill="#2c728e"/>
<rect x="1168.0" y="1095.95" width="252.0" height="9.03" fill="#287e8e"/>
<rect x="1420.0" y="1095.95" width="1661.0" height="9.03" fill="#26828e"/>
<rect x="260.0" y="1104.98" width="204.0" height="9.03" fill="#472d7b"/>
<rect x="655.0" y="1104.98" width="345.0" height="9.03" fill="#424085"/>
<rect x="1073.0" y="1104.98" width="347.0" height="9.03" fill="#460e60"/>
<rect x="1420.0" y="1104.98" width="1661.0" height="9.03" fill="#3a558b"/>
<rect x="506.0" y="1114.01" width="94.0" height="9.03" fill="#472d7b"/>
<rect x="600.0" y="1114.01" width="161.0" height="9.03" fill="#375a8c"/>
<rect x="761.0" y="1114.01" width="213.0" height="9.03" fill="#32668e"/>
<rect x="974.0" y="1114.01" width="26.0" height="9.03" fill="#424085"/>
<rect x="1104.0" y="1114.01" width="64.0" height="9.03" fill="#472d7b"/>
<rect x="1168.0" y="1114.01" width="252.0" height="9.03" fill="#460e60"/>
<rect x="1420.0" y="1114.01" width="704.0" height="9.03" fill="#460e60"/>
<rect x="2124.0" y="1114.01" width="867.0" height="9.03" fill="#460e60"/>
<rect x="506.0" y="1123.04" width="85.0" height="9.03" fill="#472d7b"/>
<rect x="591.0" y="1123.04" width="170.0" height="9.03" fill="#375a8c"/>
<rect x="761.0" y="1123.04" width="213.0" height="9.03" fill="#287e8e"/>
<rect x="974.0" y="1123.04" width="192.0" height="9.03" fill="#3d4c89"/>
<rect x="1166.0" y="1123.04" width="195.0" height="9.03" fill="#3d4c89"/>
<rect x="1472.0" y="1123.04" width="652.0" height="9.03" fill="#472d7b"/>
<rect x="2124.0" y="1123.04" width="867.0" height="9.03" fill="#472d7b"/>
<rect x="506.0" y="1132.07" width="94.0" height="9.03" fill="#472d7b"/>
<rect x="600.0" y="1132.07" width="161.0" height="9.03" fill="#32668e"/>
<rect x="761.0" y="1132.07" width="213.0" height="9.03" fill="#375a8c"/>
<rect x="974.0" y="1132.07" width="106.0" height="9.03" fill="#424085"/>
<rect x="1080.0" y="1132.07" width="86.0" height="9.03" fill="#22a884"/>
<rect x="1166.0" y="1132.07" width="195.0" height="9.03" fill="#472d7b"/>
<rect x="1361.0" y="1132.07" width="30.0" height="9.03" fill="#460e60"/>
<rect x="1391.0" y="1132.07" width="733.0" height="9.03" fill="#471b6c"/>
<rect x="2124.0" y="1132.07" width="863.0" height="9.03" fill="#460e60"/>
<rect x="583.0" y="1141.10" width="178.0" height="9.03" fill="#424085"/>
<rect x="761.0" y="1141.10" width="213.0" height="9.03" fill="#2c728e"/>
<rect x="974.0" y="1141.10" width="192.0" height="9.03" fill="#424085"/>
<rect x="1166.0" y="1141.10" width="195.0" height="9.03" fill="#3d4c89"/>
<rect x="1361.0" y="1141.10" width="763.0" height="9.03" fill="#460e60"/>
<rect x="2124.0" y="1141.10" width="863.0" height="9.03" fill="#460e60"/>
<rect x="506.0" y="1150.13" width="149.0" height="9.03" fill="#471b6c"/>
<rect x="655.0" y="1150.13" width="106.0" height="9.03" fill="#3d4c89"/>
<rect x="761.0" y="1150.13" width="213.0" height="9.03" fill="#2c728e"/>
<rect x="974.0" y="1150.13" width="192.0" height="9.03" fill="#3d4c89"/>
<rect x="1166.0" y="1150.13" width="225.0" height="9.03" fill="#3d4c89"/>
<rect x="1391.0" y="1150.13" width="733.0" height="9.03" fill="#2c728e"/>
<rect x="2124.0" y="1150.13" width="867.0" height="9.03" fill="#2c728e"/>
<rect x="495.0" y="1159.16" width="54.0" height="9.03" fill="#424085"/>
<rect x="549.0" y="1159.16" width="212.0" height="9.03" fill="#375a8c"/>
<rect x="761.0" y="1159.16" width="213.0" height="9.03" fill="#287e8e"/>
<rect x="974.0" y="1159.16" width="192.0" height="9.03" fill="#472d7b"/>
<rect x="1166.0" y="1159.16" width="195.0" height="9.03" fill="#375a8c"/>
<rect x="1472.0" y="1159.16" width="652.0" height="9.03" fill="#472d7b"/>
<rect x="2124.0" y="1159.16" width="867.0" height="9.03" fill="#472d7b"/>
<rect x="600.0" y="1168.20" width="161.0" height="9.03" fill="#3d4c89"/>
<rect x="761.0" y="1168.20" width="213.0" height="9.03" fill="#2c728e"/>
<rect x="974.0" y="1168.20" width="192.0" height="9.03" fill="#21918c"/>
<rect x="1166.0" y="1168.20" width="195.0" height="9.03" fill="#32668e"/>
<rect x="1361.0" y="1168.20" width="111.0" height="9.03" fill="#460e60"/>
<rect x="1472.0" y="1168.20" width="652.0" height="9.03" fill="#2c728e"/>
<rect x="2124.0" y="1168.20" width="867.0" height="9.03" fill="#32668e"/>
<rect x="600.0" y="1177.23" width="161.0" height="9.03" fill="#424085"/>
<rect x="761.0" y="1177.23" width="213.0" height="9.03" fill="#32668e"/>
<rect x="974.0" y="1177.23" width="192.0" height="9.03" fill="#22a884"/>
<rect x="1166.0" y="1177.23" width="195.0" height="9.03" fill="#375a8c"/>
<rect x="1361.0" y="1177.23" width="111.0" height="9.03" fill="#460e60"/>
<rect x="1472.0" y="1177.23" width="652.0" height="9.03" fill="#472d7b"/>
<rect x="2124.0" y="1177.23" width="867.0" height="9.03" fill="#472d7b"/>
<rect x="600.0" y="1186.26" width="161.0" height="9.03" fill="#472d7b"/>
<rect x="761.0" y="1186.26" width="213.0" height="9.03" fill="#375a8c"/>
<rect x="974.0" y="1186.26" width="192.0" height="9.03" fill="#21918c"/>
<rect x="1166.0" y="1186.26" width="195.0" height="9.03" fill="#2c728e"/>
<rect x="2124.0" y="1186.26" width="867.0" height="9.03" fill="#460e60"/>
<rect x="617.0" y="1195.29" width="144.0" height="9.03" fill="#424085"/>
<rect x="761.0" y="1195.29" width="213.0" height="9.03" fill="#3d4c89"/>
<rect x="974.0" y="1195.29" width="192.0" height="9.03" fill="#287e8e"/>
<rect x="1166.0" y="1195.29" width="195.0" height="9.03" fill="#471b6c"/>
<rect x="1361.0" y="1195.29" width="763.0" height="9.03" fill="#460e60"/>
<rect x="2124.0" y="1195.29" width="867.0" height="9.03" fill="#460e60"/>
<rect x="600.0" y="1204.32" width="374.0" height="9.03" fill="#472d7b"/>
<rect x="974.0" y="1204.32" width="192.0" height="9.03" fill="#375a8c"/>
<rect x="1166.0" y="1204.32" width="195.0" height="9.03" fill="#1e9c89"/>
<rect x="1519.0" y="1204.32" width="605.0" height="9.03" fill="#472d7b"/>
<rect x="2124.0" y="1204.32" width="867.0" height="9.03" fill="#472d7b"/>
<rect x="642.0" y="1213.35" width="332.0" height="9.03" fill="#472d7b"/>
<rect x="974.0" y="1213.35" width="192.0" height="9.03" fill="#375a8c"/>
<rect x="1166.0" y="1213.35" width="958.0" height="9.03" fill="#460e60"/>
<rect x="2124.0" y="1213.35" width="867.0" height="9.03" fill="#460e60"/>
<rect x="481.0" y="1222.38" width="280.0" height="9.03" fill="#32668e"/>
<rect x="761.0" y="1222.38" width="405.0" height="9.03" fill="#287e8e"/>
<rect x="1208.0" y="1222.38" width="153.0" height="9.03" fill="#424085"/>
<rect x="1497.0" y="1222.38" width="627.0" height="9.03" fill="#375a8c"/>
<rect x="2124.0" y="1222.38" width="867.0" height="9.03" fill="#375a8c"/>
<rect x="485.0" y="1231.41" width="170.0" height="9.03" fill="#424085"/>
<rect x="655.0" y="1231.41" width="327.0" height="9.03" fill="#3d4c89"/>
<rect x="982.0" y="1231.41" width="184.0" height="9.03" fill="#22a884"/>
<rect x="1220.0" y="1231.41" width="141.0" height="9.03" fill="#424085"/>
<rect x="1391.0" y="1231.41" width="73.0" height="9.03" fill="#3d4c89"/>
<rect x="1497.0" y="1231.41" width="627.0" height="9.03" fill="#471b6c"/>
<rect x="2124.0" y="1231.41" width="867.0" height="9.03" fill="#471b6c"/>
<rect x="655.0" y="1240.44" width="319.0" height="9.03" fill="#472d7b"/>
<rect x="974.0" y="1240.44" width="192.0" height="9.03" fill="#3d4c89"/>
<rect x="1230.0" y="1240.44" width="131.0" height="9.03" fill="#424085"/>
<rect x="1361.0" y="1240.44" width="30.0" height="9.03" fill="#375a8c"/>
<rect x="1497.0" y="1240.44" width="627.0" height="9.03" fill="#472d7b"/>
<rect x="2124.0" y="1240.44" width="867.0" height="9.03" fill="#472d7b"/>
<rect x="490.0" y="1249.47" width="271.0" height="9.03" fill="#472d7b"/>
<rect x="761.0" y="1249.47" width="213.0" height="9.03" fill="#424085"/>
<rect x="974.0" y="1249.47" width="192.0" height="9.03" fill="#375a8c"/>
<rect x="1519.0" y="1249.47" width="540.0" height="9.03" fill="#32668e"/>
<rect x="2059.0" y="1249.47" width="65.0" height="9.03" fill="#287e8e"/>
<rect x="2124.0" y="1249.47" width="867.0" height="9.03" fill="#287e8e"/>
<rect x="761.0" y="1258.50" width="213.0" height="9.03" fill="#424085"/>
<rect x="974.0" y="1258.50" width="106.0" height="9.03" fill="#375a8c"/>
<rect x="1080.0" y="1258.50" width="86.0" height="9.03" fill="#2c728e"/>
<rect x="1519.0" y="1258.50" width="605.0" height="9.03" fill="#424085"/>
<rect x="2124.0" y="1258.50" width="867.0" height="9.03" fill="#424085"/>
<rect x="485.0" y="1267.53" width="276.0" height="9.03" fill="#424085"/>
<rect x="761.0" y="1267.53" width="213.0" height="9.03" fill="#3d4c89"/>
<rect x="974.0" y="1267.53" width="106.0" height="9.03" fill="#375a8c"/>
<rect x="1080.0" y="1267.53" width="86.0" height="9.03" fill="#287e8e"/>
<rect x="1527.0" y="1267.53" width="597.0" height="9.03" fill="#471b6c"/>
<rect x="2124.0" y="1267.53" width="867.0" height="9.03" fill="#472d7b"/>
<rect x="974.0" y="1276.56" width="192.0" height="9.03" fill="#472d7b"/>
<rect x="1396.0" y="1276.56" width="68.0" height="9.03" fill="#375a8c"/>
<rect x="1527.0" y="1276.56" width="597.0" height="9.03" fill="#460e60"/>
<rect x="974.0" y="1285.59" width="192.0" height="9.03" fill="#460e60"/>
<rect x="1430.0" y="1285.59" width="34.0" height="9.03" fill="#424085"/>
<rect x="1527.0" y="1285.59" width="523.0" height="9.03" fill="#471b6c"/>
<rect x="2050.0" y="1285.59" width="74.0" height="9.03" fill="#424085"/>
<rect x="2124.0" y="1285.59" width="812.0" height="9.03" fill="#424085"/>
<rect x="2936.0" y="1285.59" width="55.0" height="9.03" fill="#375a8c"/>
<rect x="974.0" y="1294.62" width="192.0" height="9.03" fill="#424085"/>
<rect x="1527.0" y="1294.62" width="597.0" height="9.03" fill="#472d7b"/>
<rect x="2124.0" y="1294.62" width="867.0" height="9.03" fill="#472d7b"/>
<rect x="974.0" y="1303.65" width="192.0" height="9.03" fill="#472d7b"/>
<rect x="1166.0" y="1303.65" width="42.0" height="9.03" fill="#471b6c"/>
<rect x="1208.0" y="1303.65" width="153.0" height="9.03" fill="#2c728e"/>
<rect x="2050.0" y="1303.65" width="74.0" height="9.03" fill="#472d7b"/>
<rect x="2124.0" y="1303.65" width="867.0" height="9.03" fill="#472d7b"/>
<rect x="481.0" y="1312.68" width="501.0" height="9.03" fill="#471b6c"/>
<rect x="982.0" y="1312.68" width="184.0" height="9.03" fill="#424085"/>
<rect x="1166.0" y="1312.68" width="34.0" height="9.03" fill="#471b6c"/>
<rect x="1200.0" y="1312.68" width="161.0" height="9.03" fill="#424085"/>
<rect x="1910.0" y="1312.68" width="140.0" height="9.03" fill="#424085"/>
<rect x="2050.0" y="1312.68" width="74.0" height="9.03" fill="#3d4c89"/>
<rect x="2124.0" y="1312.68" width="30.0" height="9.03" fill="#3d4c89"/>
<rect x="2154.0" y="1312.68" width="837.0" height="9.03" fill="#2c728e"/>
<rect x="982.0" y="1321.71" width="184.0" height="9.03" fill="#424085"/>
<rect x="1230.0" y="1321.71" width="131.0" height="9.03" fill="#2c728e"/>
<rect x="1910.0" y="1321.71" width="149.0" height="9.03" fill="#472d7b"/>
<rect x="2059.0" y="1321.71" width="65.0" height="9.03" fill="#424085"/>
<rect x="2124.0" y="1321.71" width="221.0" height="9.03" fill="#472d7b"/>
<rect x="2345.0" y="1321.71" width="608.0" height="9.03" fill="#3d4c89"/>
<rect x="2953.0" y="1321.71" width="38.0" height="9.03" fill="#2c728e"/>
<rect x="2050.0" y="1330.74" width="74.0" height="9.03" fill="#472d7b"/>
<rect x="2124.0" y="1330.74" width="829.0" height="9.03" fill="#472d7b"/>
<rect x="2953.0" y="1330.74" width="38.0" height="9.03" fill="#375a8c"/>
<rect x="2991.0" y="1330.74" width="90.0" height="9.03" fill="#471b6c"/>
<rect x="1527.0" y="1339.77" width="532.0" height="9.03" fill="#424085"/>
<rect x="2059.0" y="1339.77" width="65.0" height="9.03" fill="#2c728e"/>
<rect x="2124.0" y="1339.77" width="867.0" height="9.03" fill="#21918c"/>
<rect x="2991.0" y="1339.77" width="90.0" height="9.03" fill="#471b6c"/>
<rect x="1208.0" y="1348.80" width="153.0" height="9.03" fill="#22a884"/>
<rect x="1527.0" y="1348.80" width="597.0" height="9.03" fill="#471b6c"/>
<rect x="2124.0" y="1348.80" width="221.0" height="9.03" fill="#375a8c"/>
<rect x="2345.0" y="1348.80" width="646.0" height="9.03" fill="#2c728e"/>
<rect x="2991.0" y="1348.80" width="90.0" height="9.03" fill="#471b6c"/>
<rect x="481.0" y="1357.83" width="685.0" height="9.03" fill="#471b6c"/>
<rect x="1230.0" y="1357.83" width="131.0" height="9.03" fill="#44bf70"/>
<rect x="2124.0" y="1357.83" width="829.0" height="9.03" fill="#471b6c"/>
<rect x="2953.0" y="1357.83" width="128.0" height="9.03" fill="#22a884"/>
<rect x="1531.0" y="1366.86" width="519.0" height="9.03" fill="#472d7b"/>
<rect x="2050.0" y="1366.86" width="74.0" height="9.03" fill="#375a8c"/>
<rect x="2124.0" y="1366.86" width="629.0" height="9.03" fill="#287e8e"/>
<rect x="2753.0" y="1366.86" width="187.0" height="9.03" fill="#21918c"/>
<rect x="2940.0" y="1366.86" width="51.0" height="9.03" fill="#44bf70"/>
<rect x="2991.0" y="1366.86" width="90.0" height="9.03" fill="#472d7b"/>
<rect x="1310.0" y="1375.89" width="51.0" height="9.03" fill="#424085"/>
<rect x="1466.0" y="1375.89" width="65.0" height="9.03" fill="#424085"/>
<rect x="1574.0" y="1375.89" width="485.0" height="9.03" fill="#471b6c"/>
<rect x="2059.0" y="1375.89" width="65.0" height="9.03" fill="#2c728e"/>
<rect x="2124.0" y="1375.89" width="629.0" height="9.03" fill="#1e9c89"/>
<rect x="2753.0" y="1375.89" width="187.0" height="9.03" fill="#2fb47c"/>
<rect x="2940.0" y="1375.89" width="13.0" height="9.03" fill="#7ad151"/>
<rect x="2953.0" y="1375.89" width="38.0" height="9.03" fill="#f1e50a"/>
<rect x="2991.0" y="1375.89" width="90.0" height="9.03" fill="#424085"/>
<rect x="1310.0" y="1384.92" width="51.0" height="9.03" fill="#472d7b"/>
<rect x="1574.0" y="1384.92" width="336.0" height="9.03" fill="#460e60"/>
<rect x="1910.0" y="1384.92" width="214.0" height="9.03" fill="#472d7b"/>
<rect x="2124.0" y="1384.92" width="816.0" height="9.03" fill="#21918c"/>
<rect x="2940.0" y="1384.92" width="51.0" height="9.03" fill="#44bf70"/>
<rect x="2991.0" y="1384.92" width="90.0" height="9.03" fill="#472d7b"/>
<rect x="1174.0" y="1393.96" width="34.0" height="9.03" fill="#424085"/>
<rect x="1318.0" y="1393.96" width="43.0" height="9.03" fill="#472d7b"/>
<rect x="1914.0" y="1393.96" width="136.0" height="9.03" fill="#375a8c"/>
<rect x="2166.0" y="1393.96" width="787.0" height="9.03" fill="#287e8e"/>
<rect x="2953.0" y="1393.96" width="38.0" height="9.03" fill="#7ad151"/>
<rect x="2991.0" y="1393.96" width="90.0" height="9.03" fill="#22a884"/>
<rect x="1318.0" y="1402.99" width="43.0" height="9.03" fill="#472d7b"/>
<rect x="1914.0" y="1402.99" width="136.0" height="9.03" fill="#472d7b"/>
<rect x="2149.0" y="1402.99" width="166.0" height="9.03" fill="#424085"/>
<rect x="2315.0" y="1402.99" width="34.0" height="9.03" fill="#375a8c"/>
<rect x="2668.0" y="1402.99" width="149.0" height="9.03" fill="#472d7b"/>
<rect x="2817.0" y="1402.99" width="123.0" height="9.03" fill="#3d4c89"/>
<rect x="2940.0" y="1402.99" width="51.0" height="9.03" fill="#22a884"/>
<rect x="2991.0" y="1402.99" width="90.0" height="9.03" fill="#1e9c89"/>
<rect x="1531.0" y="1412.02" width="209.0" height="9.03" fill="#32668e"/>
<rect x="1740.0" y="1412.02" width="310.0" height="9.03" fill="#2c728e"/>
<rect x="2124.0" y="1412.02" width="25.0" height="9.03" fill="#460e60"/>
<rect x="2149.0" y="1412.02" width="200.0" height="9.03" fill="#32668e"/>
<rect x="2668.0" y="1412.02" width="85.0" height="9.03" fill="#424085"/>
<rect x="2753.0" y="1412.02" width="238.0" height="9.03" fill="#375a8c"/>
<rect x="2991.0" y="1412.02" width="90.0" height="9.03" fill="#424085"/>
<rect x="1230.0" y="1421.05" width="131.0" height="9.03" fill="#375a8c"/>
<rect x="1531.0" y="1421.05" width="379.0" height="9.03" fill="#424085"/>
<rect x="1910.0" y="1421.05" width="140.0" height="9.03" fill="#375a8c"/>
<rect x="2179.0" y="1421.05" width="170.0" height="9.03" fill="#472d7b"/>
<rect x="2668.0" y="1421.05" width="323.0" height="9.03" fill="#424085"/>
<rect x="2991.0" y="1421.05" width="90.0" height="9.03" fill="#472d7b"/>
<rect x="1200.0" y="1430.08" width="30.0" height="9.03" fill="#22a884"/>
<rect x="1264.0" y="1430.08" width="97.0" height="9.03" fill="#2c728e"/>
<rect x="1531.0" y="1430.08" width="379.0" height="9.03" fill="#2c728e"/>
<rect x="1910.0" y="1430.08" width="140.0" height="9.03" fill="#22a884"/>
<rect x="2124.0" y="1430.08" width="225.0" height="9.03" fill="#22a884"/>
<rect x="2404.0" y="1430.08" width="349.0" height="9.03" fill="#472d7b"/>
<rect x="2753.0" y="1430.08" width="238.0" height="9.03" fill="#375a8c"/>
<rect x="2991.0" y="1430.08" width="90.0" height="9.03" fill="#2c728e"/>
<rect x="1264.0" y="1439.11" width="97.0" height="9.03" fill="#472d7b"/>
<rect x="1531.0" y="1439.11" width="383.0" height="9.03" fill="#472d7b"/>
<rect x="2179.0" y="1439.11" width="136.0" height="9.03" fill="#375a8c"/>
<rect x="2315.0" y="1439.11" width="34.0" height="9.03" fill="#2c728e"/>
<rect x="2404.0" y="1439.11" width="349.0" height="9.03" fill="#472d7b"/>
<rect x="2753.0" y="1439.11" width="238.0" height="9.03" fill="#32668e"/>
<rect x="2991.0" y="1439.11" width="90.0" height="9.03" fill="#32668e"/>
<rect x="1264.0" y="1448.14" width="97.0" height="9.03" fill="#424085"/>
<rect x="1361.0" y="1448.14" width="77.0" height="9.03" fill="#2c728e"/>
<rect x="1531.0" y="1448.14" width="383.0" height="9.03" fill="#424085"/>
<rect x="2188.0" y="1448.14" width="161.0" height="9.03" fill="#472d7b"/>
<rect x="2404.0" y="1448.14" width="349.0" height="9.03" fill="#460e60"/>
<rect x="2753.0" y="1448.14" width="238.0" height="9.03" fill="#3d4c89"/>
<rect x="2991.0" y="1448.14" width="90.0" height="9.03" fill="#1e9c89"/>
<rect x="1310.0" y="1457.17" width="51.0" height="9.03" fill="#375a8c"/>
<rect x="1550.0" y="1457.17" width="364.0" height="9.03" fill="#375a8c"/>
<rect x="1914.0" y="1457.17" width="136.0" height="9.03" fill="#460e60"/>
<rect x="2188.0" y="1457.17" width="161.0" height="9.03" fill="#32668e"/>
<rect x="2413.0" y="1457.17" width="268.0" height="9.03" fill="#3d4c89"/>
<rect x="2681.0" y="1457.17" width="310.0" height="9.03" fill="#2c728e"/>
<rect x="2991.0" y="1457.17" width="90.0" height="9.03" fill="#472d7b"/>
<rect x="1438.0" y="1466.20" width="93.0" height="9.03" fill="#472d7b"/>
<rect x="1531.0" y="1466.20" width="383.0" height="9.03" fill="#424085"/>
<rect x="1914.0" y="1466.20" width="136.0" height="9.03" fill="#471b6c"/>
<rect x="2188.0" y="1466.20" width="161.0" height="9.03" fill="#472d7b"/>
<rect x="2404.0" y="1466.20" width="230.0" height="9.03" fill="#471b6c"/>
<rect x="2634.0" y="1466.20" width="357.0" height="9.03" fill="#32668e"/>
<rect x="2991.0" y="1466.20" width="90.0" height="9.03" fill="#375a8c"/>
<rect x="1264.0" y="1475.23" width="97.0" height="9.03" fill="#44bf70"/>
<rect x="1531.0" y="1475.23" width="383.0" height="9.03" fill="#287e8e"/>
<rect x="1914.0" y="1475.23" width="210.0" height="9.03" fill="#460e60"/>
<rect x="2188.0" y="1475.23" width="161.0" height="9.03" fill="#287e8e"/>
<rect x="2413.0" y="1475.23" width="221.0" height="9.03" fill="#460e60"/>
<rect x="2634.0" y="1475.23" width="119.0" height="9.03" fill="#424085"/>
<rect x="2753.0" y="1475.23" width="238.0" height="9.03" fill="#287e8e"/>
<rect x="2991.0" y="1475.23" width="90.0" height="9.03" fill="#460e60"/>
<rect x="1531.0" y="1484.26" width="383.0" height="9.03" fill="#472d7b"/>
<rect x="1914.0" y="1484.26" width="210.0" height="9.03" fill="#471b6c"/>
<rect x="2124.0" y="1484.26" width="64.0" height="9.03" fill="#472d7b"/>
<rect x="2188.0" y="1484.26" width="161.0" height="9.03" fill="#375a8c"/>
<rect x="2413.0" y="1484.26" width="255.0" height="9.03" fill="#472d7b"/>
<rect x="2668.0" y="1484.26" width="85.0" height="9.03" fill="#375a8c"/>
<rect x="2753.0" y="1484.26" width="136.0" height="9.03" fill="#44bf70"/>
<rect x="2889.0" y="1484.26" width="51.0" height="9.03" fill="#9bd93c"/>
<rect x="2991.0" y="1484.26" width="90.0" height="9.03" fill="#424085"/>
<rect x="1310.0" y="1493.29" width="51.0" height="9.03" fill="#424085"/>
<rect x="1574.0" y="1493.29" width="166.0" height="9.03" fill="#32668e"/>
<rect x="1740.0" y="1493.29" width="174.0" height="9.03" fill="#1e9c89"/>
<rect x="1914.0" y="1493.29" width="136.0" height="9.03" fill="#471b6c"/>
<rect x="2124.0" y="1493.29" width="64.0" height="9.03" fill="#460e60"/>
<rect x="2188.0" y="1493.29" width="161.0" height="9.03" fill="#471b6c"/>
<rect x="2370.0" y="1493.29" width="311.0" height="9.03" fill="#472d7b"/>
<rect x="2681.0" y="1493.29" width="310.0" height="9.03" fill="#32668e"/>
<rect x="2991.0" y="1493.29" width="90.0" height="9.03" fill="#32668e"/>
<rect x="1531.0" y="1502.32" width="383.0" height="9.03" fill="#472d7b"/>
<rect x="1914.0" y="1502.32" width="210.0" height="9.03" fill="#460e60"/>
<rect x="2124.0" y="1502.32" width="64.0" height="9.03" fill="#424085"/>
<rect x="2188.0" y="1502.32" width="127.0" height="9.03" fill="#21918c"/>
<rect x="2315.0" y="1502.32" width="34.0" height="9.03" fill="#22a884"/>
<rect x="2379.0" y="1502.32" width="255.0" height="9.03" fill="#472d7b"/>
<rect x="2634.0" y="1502.32" width="136.0" height="9.03" fill="#32668e"/>
<rect x="2770.0" y="1502.32" width="47.0" height="9.03" fill="#424085"/>
<rect x="2817.0" y="1502.32" width="174.0" height="9.03" fill="#21918c"/>
<rect x="2991.0" y="1502.32" width="90.0" height="9.03" fill="#21918c"/>
<rect x="1200.0" y="1511.35" width="30.0" height="9.03" fill="#2c728e"/>
<rect x="1574.0" y="1511.35" width="340.0" height="9.03" fill="#472d7b"/>
<rect x="1914.0" y="1511.35" width="86.0" height="9.03" fill="#460e60"/>
<rect x="2000.0" y="1511.35" width="124.0" height="9.03" fill="#424085"/>
<rect x="2124.0" y="1511.35" width="64.0" height="9.03" fill="#375a8c"/>
<rect x="2188.0" y="1511.35" width="127.0" height="9.03" fill="#1e9c89"/>
<rect x="2315.0" y="1511.35" width="34.0" height="9.03" fill="#44bf70"/>
<rect x="2388.0" y="1511.35" width="246.0" height="9.03" fill="#471b6c"/>
<rect x="2634.0" y="1511.35" width="119.0" height="9.03" fill="#32668e"/>
<rect x="2753.0" y="1511.35" width="136.0" height="9.03" fill="#2c728e"/>
<rect x="2889.0" y="1511.35" width="102.0" height="9.03" fill="#5ec962"/>
<rect x="2991.0" y="1511.35" width="90.0" height="9.03" fill="#472d7b"/>
<rect x="1200.0" y="1520.38" width="30.0" height="9.03" fill="#375a8c"/>
<rect x="1574.0" y="1520.38" width="340.0" height="9.03" fill="#472d7b"/>
<rect x="1914.0" y="1520.38" width="210.0" height="9.03" fill="#424085"/>
<rect x="2124.0" y="1520.38" width="42.0" height="9.03" fill="#471b6c"/>
<rect x="2166.0" y="1520.38" width="22.0" height="9.03" fill="#424085"/>
<rect x="2188.0" y="1520.38" width="161.0" height="9.03" fill="#460e60"/>
<rect x="2413.0" y="1520.38" width="221.0" height="9.03" fill="#424085"/>
<rect x="2634.0" y="1520.38" width="136.0" height="9.03" fill="#2c728e"/>
<rect x="2817.0" y="1520.38" width="136.0" height="9.03" fill="#375a8c"/>
<rect x="2991.0" y="1520.38" width="90.0" height="9.03" fill="#375a8c"/>
<rect x="1574.0" y="1529.41" width="166.0" height="9.03" fill="#32668e"/>
<rect x="1740.0" y="1529.41" width="174.0" height="9.03" fill="#22a884"/>
<rect x="1914.0" y="1529.41" width="210.0" height="9.03" fill="#32668e"/>
<rect x="2124.0" y="1529.41" width="64.0" height="9.03" fill="#2c728e"/>
<rect x="2188.0" y="1529.41" width="225.0" height="9.03" fill="#472d7b"/>
<rect x="2413.0" y="1529.41" width="162.0" height="9.03" fill="#375a8c"/>
<rect x="2575.0" y="1529.41" width="93.0" height="9.03" fill="#32668e"/>
<rect x="2817.0" y="1529.41" width="123.0" height="9.03" fill="#22a884"/>
<rect x="2991.0" y="1529.41" width="90.0" height="9.03" fill="#2c728e"/>
<rect x="1264.0" y="1538.44" width="46.0" height="9.03" fill="#375a8c"/>
<rect x="1438.0" y="1538.44" width="68.0" height="9.03" fill="#2c728e"/>
<rect x="1612.0" y="1538.44" width="128.0" height="9.03" fill="#424085"/>
<rect x="1740.0" y="1538.44" width="174.0" height="9.03" fill="#375a8c"/>
<rect x="1914.0" y="1538.44" width="210.0" height="9.03" fill="#2c728e"/>
<rect x="2124.0" y="1538.44" width="64.0" height="9.03" fill="#375a8c"/>
<rect x="2188.0" y="1538.44" width="225.0" height="9.03" fill="#471b6c"/>
<rect x="2413.0" y="1538.44" width="162.0" height="9.03" fill="#32668e"/>
<rect x="2575.0" y="1538.44" width="93.0" height="9.03" fill="#2c728e"/>
<rect x="2817.0" y="1538.44" width="72.0" height="9.03" fill="#32668e"/>
<rect x="2991.0" y="1538.44" width="90.0" height="9.03" fill="#21918c"/>
<rect x="1612.0" y="1547.47" width="234.0" height="9.03" fill="#3d4c89"/>
<rect x="1846.0" y="1547.47" width="68.0" height="9.03" fill="#1e9c89"/>
<rect x="1914.0" y="1547.47" width="210.0" height="9.03" fill="#32668e"/>
<rect x="2124.0" y="1547.47" width="64.0" height="9.03" fill="#21918c"/>
<rect x="2188.0" y="1547.47" width="225.0" height="9.03" fill="#472d7b"/>
<rect x="2413.0" y="1547.47" width="255.0" height="9.03" fill="#375a8c"/>
<rect x="2991.0" y="1547.47" width="90.0" height="9.03" fill="#287e8e"/>
<rect x="1200.0" y="1556.50" width="30.0" height="9.03" fill="#32668e"/>
<rect x="1574.0" y="1556.50" width="340.0" height="9.03" fill="#472d7b"/>
<rect x="1914.0" y="1556.50" width="210.0" height="9.03" fill="#32668e"/>
<rect x="2124.0" y="1556.50" width="64.0" height="9.03" fill="#32668e"/>
<rect x="2188.0" y="1556.50" width="191.0" height="9.03" fill="#471b6c"/>
<rect x="2379.0" y="1556.50" width="255.0" height="9.03" fill="#3d4c89"/>
<rect x="2634.0" y="1556.50" width="34.0" height="9.03" fill="#2c728e"/>
<rect x="2991.0" y="1556.50" width="90.0" height="9.03" fill="#32668e"/>
<rect x="1612.0" y="1565.53" width="128.0" height="9.03" fill="#472d7b"/>
<rect x="1740.0" y="1565.53" width="310.0" height="9.03" fill="#424085"/>
<rect x="2050.0" y="1565.53" width="74.0" height="9.03" fill="#3d4c89"/>
<rect x="2124.0" y="1565.53" width="64.0" height="9.03" fill="#2c728e"/>
<rect x="2188.0" y="1565.53" width="127.0" height="9.03" fill="#424085"/>
<rect x="2315.0" y="1565.53" width="34.0" height="9.03" fill="#375a8c"/>
<rect x="2404.0" y="1565.53" width="230.0" height="9.03" fill="#471b6c"/>
<rect x="2634.0" y="1565.53" width="34.0" height="9.03" fill="#375a8c"/>
<rect x="2991.0" y="1565.53" width="90.0" height="9.03" fill="#471b6c"/>
<rect x="1361.0" y="1574.56" width="35.0" height="9.03" fill="#424085"/>
<rect x="1612.0" y="1574.56" width="302.0" height="9.03" fill="#375a8c"/>
<rect x="1914.0" y="1574.56" width="210.0" height="9.03" fill="#424085"/>
<rect x="2124.0" y="1574.56" width="64.0" height="9.03" fill="#21918c"/>
<rect x="2188.0" y="1574.56" width="191.0" height="9.03" fill="#424085"/>
<rect x="2379.0" y="1574.56" width="43.0" height="9.03" fill="#375a8c"/>
<rect x="2422.0" y="1574.56" width="212.0" height="9.03" fill="#1e9c89"/>
<rect x="2634.0" y="1574.56" width="34.0" height="9.03" fill="#22a884"/>
<rect x="2991.0" y="1574.56" width="90.0" height="9.03" fill="#424085"/>
<rect x="1264.0" y="1583.59" width="97.0" height="9.03" fill="#3d4c89"/>
<rect x="1676.0" y="1583.59" width="238.0" height="9.03" fill="#21918c"/>
<rect x="1914.0" y="1583.59" width="210.0" height="9.03" fill="#424085"/>
<rect x="2124.0" y="1583.59" width="64.0" height="9.03" fill="#2c728e"/>
<rect x="2188.0" y="1583.59" width="191.0" height="9.03" fill="#424085"/>
<rect x="2379.0" y="1583.59" width="289.0" height="9.03" fill="#472d7b"/>
<rect x="2991.0" y="1583.59" width="90.0" height="9.03" fill="#375a8c"/>
<rect x="1310.0" y="1592.62" width="51.0" height="9.03" fill="#3d4c89"/>
<rect x="1612.0" y="1592.62" width="302.0" height="9.03" fill="#3d4c89"/>
<rect x="1914.0" y="1592.62" width="210.0" height="9.03" fill="#424085"/>
<rect x="2124.0" y="1592.62" width="64.0" height="9.03" fill="#32668e"/>
<rect x="2442.0" y="1592.62" width="148.0" height="9.03" fill="#424085"/>
<rect x="2590.0" y="1592.62" width="78.0" height="9.03" fill="#375a8c"/>
<rect x="2991.0" y="1592.62" width="90.0" height="9.03" fill="#424085"/>
<rect x="1310.0" y="1601.65" width="51.0" height="9.03" fill="#32668e"/>
<rect x="1361.0" y="1601.65" width="39.0" height="9.03" fill="#424085"/>
<rect x="1612.0" y="1601.65" width="64.0" height="9.03" fill="#375a8c"/>
<rect x="1676.0" y="1601.65" width="238.0" height="9.03" fill="#472d7b"/>
<rect x="1914.0" y="1601.65" width="210.0" height="9.03" fill="#375a8c"/>
<rect x="2124.0" y="1601.65" width="64.0" height="9.03" fill="#287e8e"/>
<rect x="2188.0" y="1601.65" width="127.0" height="9.03" fill="#472d7b"/>
<rect x="2473.0" y="1601.65" width="106.0" height="9.03" fill="#3d4c89"/>
<rect x="2579.0" y="1601.65" width="89.0" height="9.03" fill="#2c728e"/>
<rect x="2817.0" y="1601.65" width="123.0" height="9.03" fill="#287e8e"/>
<rect x="2940.0" y="1601.65" width="141.0" height="9.03" fill="#32668e"/>
<rect x="1264.0" y="1610.68" width="97.0" height="9.03" fill="#472d7b"/>
<rect x="1612.0" y="1610.68" width="302.0" height="9.03" fill="#472d7b"/>
<rect x="1914.0" y="1610.68" width="210.0" height="9.03" fill="#32668e"/>
<rect x="2124.0" y="1610.68" width="64.0" height="9.03" fill="#375a8c"/>
<rect x="2188.0" y="1610.68" width="127.0" height="9.03" fill="#472d7b"/>
<rect x="2579.0" y="1610.68" width="89.0" height="9.03" fill="#375a8c"/>
<rect x="2940.0" y="1610.68" width="141.0" height="9.03" fill="#2c728e"/>
<rect x="1264.0" y="1619.72" width="50.0" height="9.03" fill="#375a8c"/>
<rect x="1314.0" y="1619.72" width="268.0" height="9.03" fill="#424085"/>
<rect x="2027.0" y="1619.72" width="97.0" height="9.03" fill="#375a8c"/>
<rect x="2124.0" y="1619.72" width="64.0" height="9.03" fill="#32668e"/>
<rect x="2188.0" y="1619.72" width="289.0" height="9.03" fill="#471b6c"/>
<rect x="2477.0" y="1619.72" width="102.0" height="9.03" fill="#2c728e"/>
<rect x="2668.0" y="1619.72" width="157.0" height="9.03" fill="#471b6c"/>
<rect x="2825.0" y="1619.72" width="256.0" height="9.03" fill="#375a8c"/>
<rect x="1318.0" y="1628.75" width="264.0" height="9.03" fill="#472d7b"/>
<rect x="1745.0" y="1628.75" width="50.0" height="9.03" fill="#3d4c89"/>
<rect x="1868.0" y="1628.75" width="256.0" height="9.03" fill="#375a8c"/>
<rect x="2124.0" y="1628.75" width="64.0" height="9.03" fill="#2c728e"/>
<rect x="2188.0" y="1628.75" width="25.0" height="9.03" fill="#22a884"/>
<rect x="2213.0" y="1628.75" width="264.0" height="9.03" fill="#471b6c"/>
<rect x="2477.0" y="1628.75" width="102.0" height="9.03" fill="#375a8c"/>
<rect x="2668.0" y="1628.75" width="157.0" height="9.03" fill="#424085"/>
<rect x="2825.0" y="1628.75" width="256.0" height="9.03" fill="#287e8e"/>
<rect x="1200.0" y="1637.78" width="45.0" height="9.03" fill="#424085"/>
<rect x="1745.0" y="1637.78" width="50.0" height="9.03" fill="#375a8c"/>
<rect x="1900.0" y="1637.78" width="224.0" height="9.03" fill="#375a8c"/>
<rect x="2124.0" y="1637.78" width="89.0" height="9.03" fill="#2c728e"/>
<rect x="2213.0" y="1637.78" width="264.0" height="9.03" fill="#460e60"/>
<rect x="2477.0" y="1637.78" width="38.0" height="9.03" fill="#472d7b"/>
<rect x="2515.0" y="1637.78" width="64.0" height="9.03" fill="#375a8c"/>
<rect x="2634.0" y="1637.78" width="191.0" height="9.03" fill="#3d4c89"/>
<rect x="2825.0" y="1637.78" width="256.0" height="9.03" fill="#287e8e"/>
<rect x="1318.0" y="1646.81" width="100.0" height="9.03" fill="#472d7b"/>
<rect x="1745.0" y="1646.81" width="50.0" height="9.03" fill="#2c728e"/>
<rect x="1900.0" y="1646.81" width="224.0" height="9.03" fill="#22a884"/>
<rect x="2124.0" y="1646.81" width="64.0" height="9.03" fill="#22a884"/>
<rect x="2188.0" y="1646.81" width="25.0" height="9.03" fill="#44bf70"/>
<rect x="2213.0" y="1646.81" width="366.0" height="9.03" fill="#471b6c"/>
<rect x="2668.0" y="1646.81" width="115.0" height="9.03" fill="#32668e"/>
<rect x="2783.0" y="1646.81" width="298.0" height="9.03" fill="#1e9c89"/>
<rect x="1745.0" y="1655.84" width="50.0" height="9.03" fill="#424085"/>
<rect x="1900.0" y="1655.84" width="224.0" height="9.03" fill="#2fb47c"/>
<rect x="2124.0" y="1655.84" width="89.0" height="9.03" fill="#375a8c"/>
<rect x="2213.0" y="1655.84" width="264.0" height="9.03" fill="#460e60"/>
<rect x="2477.0" y="1655.84" width="102.0" height="9.03" fill="#472d7b"/>
<rect x="2715.0" y="1655.84" width="366.0" height="9.03" fill="#375a8c"/>
<rect x="1350.0" y="1664.87" width="68.0" height="9.03" fill="#471b6c"/>
<rect x="1745.0" y="1664.87" width="219.0" height="9.03" fill="#424085"/>
<rect x="1964.0" y="1664.87" width="160.0" height="9.03" fill="#375a8c"/>
<rect x="2124.0" y="1664.87" width="89.0" height="9.03" fill="#3d4c89"/>
<rect x="2213.0" y="1664.87" width="264.0" height="9.03" fill="#460e60"/>
<rect x="2477.0" y="1664.87" width="102.0" height="9.03" fill="#3d4c89"/>
<rect x="2715.0" y="1664.87" width="155.0" height="9.03" fill="#424085"/>
<rect x="2870.0" y="1664.87" width="211.0" height="9.03" fill="#375a8c"/>
<rect x="1504.0" y="1673.90" width="78.0" height="9.03" fill="#472d7b"/>
<rect x="1745.0" y="1673.90" width="123.0" height="9.03" fill="#3d4c89"/>
<rect x="1868.0" y="1673.90" width="256.0" height="9.03" fill="#424085"/>
<rect x="2124.0" y="1673.90" width="89.0" height="9.03" fill="#2c728e"/>
<rect x="2213.0" y="1673.90" width="264.0" height="9.03" fill="#460e60"/>
<rect x="2477.0" y="1673.90" width="123.0" height="9.03" fill="#424085"/>
<rect x="2600.0" y="1673.90" width="183.0" height="9.03" fill="#375a8c"/>
<rect x="2783.0" y="1673.90" width="298.0" height="9.03" fill="#2fb47c"/>
<rect x="1350.0" y="1682.93" width="68.0" height="9.03" fill="#472d7b"/>
<rect x="1745.0" y="1682.93" width="50.0" height="9.03" fill="#32668e"/>
<rect x="1868.0" y="1682.93" width="256.0" height="9.03" fill="#424085"/>
<rect x="2124.0" y="1682.93" width="64.0" height="9.03" fill="#32668e"/>
<rect x="2188.0" y="1682.93" width="25.0" height="9.03" fill="#21918c"/>
<rect x="2213.0" y="1682.93" width="264.0" height="9.03" fill="#460e60"/>
<rect x="2477.0" y="1682.93" width="102.0" height="9.03" fill="#424085"/>
<rect x="2668.0" y="1682.93" width="82.0" height="9.03" fill="#424085"/>
<rect x="2750.0" y="1682.93" width="331.0" height="9.03" fill="#2c728e"/>
<rect x="1314.0" y="1691.96" width="104.0" height="9.03" fill="#472d7b"/>
<rect x="1745.0" y="1691.96" width="123.0" height="9.03" fill="#2c728e"/>
<rect x="1900.0" y="1691.96" width="224.0" height="9.03" fill="#375a8c"/>
<rect x="2124.0" y="1691.96" width="89.0" height="9.03" fill="#3d4c89"/>
<rect x="2213.0" y="1691.96" width="264.0" height="9.03" fill="#460e60"/>
<rect x="2477.0" y="1691.96" width="102.0" height="9.03" fill="#472d7b"/>
<rect x="2668.0" y="1691.96" width="157.0" height="9.03" fill="#3d4c89"/>
<rect x="2825.0" y="1691.96" width="256.0" height="9.03" fill="#375a8c"/>
<rect x="1736.0" y="1700.99" width="59.0" height="9.03" fill="#471b6c"/>
<rect x="1900.0" y="1700.99" width="127.0" height="9.03" fill="#472d7b"/>
<rect x="2027.0" y="1700.99" width="97.0" height="9.03" fill="#424085"/>
<rect x="2124.0" y="1700.99" width="89.0" height="9.03" fill="#424085"/>
<rect x="2213.0" y="1700.99" width="264.0" height="9.03" fill="#460e60"/>
<rect x="2477.0" y="1700.99" width="102.0" height="9.03" fill="#375a8c"/>
<rect x="2668.0" y="1700.99" width="157.0" height="9.03" fill="#424085"/>
<rect x="2825.0" y="1700.99" width="256.0" height="9.03" fill="#2c728e"/>
<rect x="1318.0" y="1710.02" width="100.0" height="9.03" fill="#424085"/>
<rect x="1795.0" y="1710.02" width="73.0" height="9.03" fill="#1e9c89"/>
<rect x="1868.0" y="1710.02" width="256.0" height="9.03" fill="#472d7b"/>
<rect x="2124.0" y="1710.02" width="89.0" height="9.03" fill="#287e8e"/>
<rect x="2213.0" y="1710.02" width="264.0" height="9.03" fill="#460e60"/>
<rect x="2477.0" y="1710.02" width="102.0" height="9.03" fill="#471b6c"/>
<rect x="2668.0" y="1710.02" width="202.0" height="9.03" fill="#2c728e"/>
<rect x="2870.0" y="1710.02" width="211.0" height="9.03" fill="#21918c"/>
<rect x="1318.0" y="1719.05" width="109.0" height="9.03" fill="#472d7b"/>
<rect x="1736.0" y="1719.05" width="132.0" height="9.03" fill="#32668e"/>
<rect x="1900.0" y="1719.05" width="224.0" height="9.03" fill="#424085"/>
<rect x="2124.0" y="1719.05" width="89.0" height="9.03" fill="#424085"/>
<rect x="2213.0" y="1719.05" width="264.0" height="9.03" fill="#460e60"/>
<rect x="2477.0" y="1719.05" width="102.0" height="9.03" fill="#32668e"/>
<rect x="2668.0" y="1719.05" width="202.0" height="9.03" fill="#32668e"/>
<rect x="2870.0" y="1719.05" width="211.0" height="9.03" fill="#1e9c89"/>
<rect x="1736.0" y="1728.08" width="132.0" height="9.03" fill="#3d4c89"/>
<rect x="1900.0" y="1728.08" width="127.0" height="9.03" fill="#471b6c"/>
<rect x="2027.0" y="1728.08" width="97.0" height="9.03" fill="#460e60"/>
<rect x="2124.0" y="1728.08" width="353.0" height="9.03" fill="#460e60"/>
<rect x="2477.0" y="1728.08" width="102.0" height="9.03" fill="#471b6c"/>
<rect x="2634.0" y="1728.08" width="191.0" height="9.03" fill="#424085"/>
<rect x="2825.0" y="1728.08" width="256.0" height="9.03" fill="#375a8c"/>
<rect x="1427.0" y="1737.11" width="155.0" height="9.03" fill="#424085"/>
<rect x="1736.0" y="1737.11" width="132.0" height="9.03" fill="#424085"/>
<rect x="1868.0" y="1737.11" width="256.0" height="9.03" fill="#471b6c"/>
<rect x="2124.0" y="1737.11" width="255.0" height="9.03" fill="#472d7b"/>
<rect x="2379.0" y="1737.11" width="98.0" height="9.03" fill="#3d4c89"/>
<rect x="2477.0" y="1737.11" width="102.0" height="9.03" fill="#471b6c"/>
<rect x="2634.0" y="1737.11" width="447.0" height="9.03" fill="#424085"/>
<rect x="1427.0" y="1746.14" width="155.0" height="9.03" fill="#424085"/>
<rect x="1736.0" y="1746.14" width="132.0" height="9.03" fill="#424085"/>
<rect x="1868.0" y="1746.14" width="256.0" height="9.03" fill="#287e8e"/>
<rect x="2124.0" y="1746.14" width="231.0" height="9.03" fill="#21918c"/>
<rect x="2355.0" y="1746.14" width="24.0" height="9.03" fill="#1e9c89"/>
<rect x="2379.0" y="1746.14" width="102.0" height="9.03" fill="#f1e50a"/>
<rect x="2481.0" y="1746.14" width="145.0" height="9.03" fill="#460e60"/>
<rect x="2626.0" y="1746.14" width="455.0" height="9.03" fill="#287e8e"/>
<rect x="1736.0" y="1755.17" width="132.0" height="9.03" fill="#424085"/>
<rect x="1868.0" y="1755.17" width="256.0" height="9.03" fill="#21918c"/>
<rect x="2124.0" y="1755.17" width="64.0" height="9.03" fill="#22a884"/>
<rect x="2188.0" y="1755.17" width="293.0" height="9.03" fill="#2fb47c"/>
<rect x="2481.0" y="1755.17" width="145.0" height="9.03" fill="#471b6c"/>
<rect x="2626.0" y="1755.17" width="455.0" height="9.03" fill="#2c728e"/>
<rect x="1736.0" y="1764.20" width="59.0" height="9.03" fill="#471b6c"/>
<rect x="1795.0" y="1764.20" width="73.0" height="9.03" fill="#424085"/>
<rect x="1868.0" y="1764.20" width="256.0" height="9.03" fill="#2c728e"/>
<rect x="2124.0" y="1764.20" width="357.0" height="9.03" fill="#21918c"/>
<rect x="2481.0" y="1764.20" width="145.0" height="9.03" fill="#460e60"/>
<rect x="2626.0" y="1764.20" width="455.0" height="9.03" fill="#32668e"/>
<rect x="1795.0" y="1773.23" width="329.0" height="9.03" fill="#472d7b"/>
<rect x="2124.0" y="1773.23" width="64.0" height="9.03" fill="#375a8c"/>
<rect x="2188.0" y="1773.23" width="293.0" height="9.03" fill="#2c728e"/>
<rect x="2481.0" y="1773.23" width="145.0" height="9.03" fill="#460e60"/>
<rect x="2626.0" y="1773.23" width="455.0" height="9.03" fill="#424085"/>
<rect x="1654.0" y="1782.26" width="55.0" height="9.03" fill="#21918c"/>
<rect x="1736.0" y="1782.26" width="388.0" height="9.03" fill="#32668e"/>
<rect x="2124.0" y="1782.26" width="255.0" height="9.03" fill="#2c728e"/>
<rect x="2379.0" y="1782.26" width="102.0" height="9.03" fill="#1e9c89"/>
<rect x="2579.0" y="1782.26" width="47.0" height="9.03" fill="#22a884"/>
<rect x="2626.0" y="1782.26" width="455.0" height="9.03" fill="#460e60"/>
<rect x="1418.0" y="1791.29" width="164.0" height="9.03" fill="#472d7b"/>
<rect x="1736.0" y="1791.29" width="132.0" height="9.03" fill="#3d4c89"/>
<rect x="1868.0" y="1791.29" width="256.0" height="9.03" fill="#287e8e"/>
<rect x="2124.0" y="1791.29" width="255.0" height="9.03" fill="#32668e"/>
<rect x="2379.0" y="1791.29" width="102.0" height="9.03" fill="#2c728e"/>
<rect x="2626.0" y="1791.29" width="157.0" height="9.03" fill="#375a8c"/>
<rect x="2783.0" y="1791.29" width="298.0" height="9.03" fill="#2c728e"/>
<rect x="1654.0" y="1800.32" width="55.0" height="9.03" fill="#375a8c"/>
<rect x="1736.0" y="1800.32" width="132.0" height="9.03" fill="#424085"/>
<rect x="1868.0" y="1800.32" width="256.0" height="9.03" fill="#32668e"/>
<rect x="2124.0" y="1800.32" width="357.0" height="9.03" fill="#2c728e"/>
<rect x="2626.0" y="1800.32" width="455.0" height="9.03" fill="#32668e"/>
<rect x="1427.0" y="1809.35" width="155.0" height="9.03" fill="#424085"/>
<rect x="1709.0" y="1809.35" width="159.0" height="9.03" fill="#424085"/>
<rect x="1868.0" y="1809.35" width="256.0" height="9.03" fill="#32668e"/>
<rect x="2124.0" y="1809.35" width="357.0" height="9.03" fill="#287e8e"/>
<rect x="2626.0" y="1809.35" width="455.0" height="9.03" fill="#22a884"/>
<rect x="1427.0" y="1818.38" width="155.0" height="9.03" fill="#471b6c"/>
<rect x="1709.0" y="1818.38" width="415.0" height="9.03" fill="#3d4c89"/>
<rect x="2124.0" y="1818.38" width="357.0" height="9.03" fill="#2c728e"/>
<rect x="2626.0" y="1818.38" width="455.0" height="9.03" fill="#424085"/>
<rect x="1709.0" y="1827.41" width="86.0" height="9.03" fill="#2c728e"/>
<rect x="1795.0" y="1827.41" width="329.0" height="9.03" fill="#287e8e"/>
<rect x="2124.0" y="1827.41" width="357.0" height="9.03" fill="#375a8c"/>
<rect x="2626.0" y="1827.41" width="455.0" height="9.03" fill="#3d4c89"/>
<rect x="1668.0" y="1836.44" width="456.0" height="9.03" fill="#424085"/>
<rect x="2124.0" y="1836.44" width="357.0" height="9.03" fill="#471b6c"/>
<rect x="2626.0" y="1836.44" width="455.0" height="9.03" fill="#32668e"/>
<rect x="1632.0" y="1845.48" width="492.0" height="9.03" fill="#21918c"/>
<rect x="2124.0" y="1845.48" width="357.0" height="9.03" fill="#21918c"/>
<rect x="2626.0" y="1845.48" width="455.0" height="9.03" fill="#424085"/>
<rect x="1668.0" y="1854.51" width="200.0" height="9.03" fill="#424085"/>
<rect x="1868.0" y="1854.51" width="256.0" height="9.03" fill="#3d4c89"/>
<rect x="2124.0" y="1854.51" width="357.0" height="9.03" fill="#375a8c"/>
<rect x="2579.0" y="1854.51" width="21.0" height="9.03" fill="#21918c"/>
<rect x="2626.0" y="1854.51" width="455.0" height="9.03" fill="#375a8c"/>
<rect x="1668.0" y="1863.54" width="200.0" height="9.03" fill="#471b6c"/>
<rect x="1868.0" y="1863.54" width="256.0" height="9.03" fill="#424085"/>
<rect x="2124.0" y="1863.54" width="357.0" height="9.03" fill="#424085"/>
<rect x="2626.0" y="1863.54" width="455.0" height="9.03" fill="#3d4c89"/>
<rect x="1623.0" y="1872.57" width="245.0" height="9.03" fill="#471b6c"/>
<rect x="1868.0" y="1872.57" width="256.0" height="9.03" fill="#424085"/>
<rect x="2124.0" y="1872.57" width="149.0" height="9.03" fill="#472d7b"/>
<rect x="2273.0" y="1872.57" width="106.0" height="9.03" fill="#424085"/>
<rect x="2379.0" y="1872.57" width="106.0" height="9.03" fill="#375a8c"/>
<rect x="2626.0" y="1872.57" width="455.0" height="9.03" fill="#460e60"/>
<rect x="1286.0" y="1881.60" width="337.0" height="9.03" fill="#471b6c"/>
<rect x="1645.0" y="1881.60" width="223.0" height="9.03" fill="#375a8c"/>
<rect x="1868.0" y="1881.60" width="256.0" height="9.03" fill="#2c728e"/>
<rect x="2124.0" y="1881.60" width="361.0" height="9.03" fill="#375a8c"/>
<rect x="2626.0" y="1881.60" width="455.0" height="9.03" fill="#471b6c"/>
<rect x="1286.0" y="1890.63" width="337.0" height="9.03" fill="#424085"/>
<rect x="1623.0" y="1890.63" width="501.0" height="9.03" fill="#472d7b"/>
<rect x="2124.0" y="1890.63" width="361.0" height="9.03" fill="#424085"/>
<rect x="2600.0" y="1890.63" width="481.0" height="9.03" fill="#2c728e"/>
<rect x="1286.0" y="1899.66" width="337.0" height="9.03" fill="#424085"/>
<rect x="1623.0" y="1899.66" width="501.0" height="9.03" fill="#471b6c"/>
<rect x="2124.0" y="1899.66" width="361.0" height="9.03" fill="#460e60"/>
<rect x="2600.0" y="1899.66" width="481.0" height="9.03" fill="#21918c"/>
<rect x="1623.0" y="1908.69" width="501.0" height="9.03" fill="#460e60"/>
<rect x="2124.0" y="1908.69" width="361.0" height="9.03" fill="#472d7b"/>
<rect x="2626.0" y="1908.69" width="455.0" height="9.03" fill="#472d7b"/>
<rect x="1636.0" y="1917.72" width="82.0" height="9.03" fill="#471b6c"/>
<rect x="1718.0" y="1917.72" width="406.0" height="9.03" fill="#472d7b"/>
<rect x="2124.0" y="1917.72" width="361.0" height="9.03" fill="#472d7b"/>
<rect x="2600.0" y="1917.72" width="481.0" height="9.03" fill="#375a8c"/>
<rect x="1718.0" y="1926.75" width="406.0" height="9.03" fill="#471b6c"/>
<rect x="1280.0" y="1944.81" width="343.0" height="9.03" fill="#471b6c"/>
<rect x="1623.0" y="1944.81" width="501.0" height="9.03" fill="#460e60"/>
<rect x="1286.0" y="1953.84" width="350.0" height="9.03" fill="#472d7b"/>
<rect x="1636.0" y="1953.84" width="488.0" height="9.03" fill="#424085"/>
<rect x="2124.0" y="1953.84" width="361.0" height="9.03" fill="#424085"/>
<rect x="1286.0" y="1962.87" width="838.0" height="9.03" fill="#472d7b"/>
<rect x="2124.0" y="1962.87" width="361.0" height="9.03" fill="#424085"/>
<rect x="2570.0" y="1962.87" width="511.0" height="9.03" fill="#424085"/>
<rect x="1623.0" y="1971.90" width="501.0" height="9.03" fill="#460e60"/>
<rect x="2124.0" y="1971.90" width="361.0" height="9.03" fill="#471b6c"/>
<rect x="2600.0" y="1971.90" width="481.0" height="9.03" fill="#375a8c"/>
<rect x="2124.0" y="1980.93" width="361.0" height="9.03" fill="#460e60"/>
<rect x="2600.0" y="1980.93" width="481.0" height="9.03" fill="#460e60"/>
<rect x="1623.0" y="1989.96" width="501.0" height="9.03" fill="#471b6c"/>
<rect x="2124.0" y="1989.96" width="361.0" height="9.03" fill="#472d7b"/>
<rect x="2570.0" y="1989.96" width="511.0" height="9.03" fill="#472d7b"/>
<rect x="2570.0" y="1998.99" width="511.0" height="9.03" fill="#21918c"/>
<rect x="2570.0" y="2008.02" width="511.0" height="9.03" fill="#424085"/>
<rect x="2124.0" y="2026.08" width="361.0" height="9.03" fill="#460e60"/>
<rect x="2570.0" y="2026.08" width="511.0" height="9.03" fill="#460e60"/>
<rect x="1623.0" y="2035.11" width="501.0" height="9.03" fill="#471365"/>
<rect x="2124.0" y="2035.11" width="361.0" height="9.03" fill="#471b6c"/>
<rect x="2570.0" y="2035.11" width="511.0" height="9.03" fill="#375a8c"/>
<rect x="2570.0" y="2044.14" width="511.0" height="9.03" fill="#32668e"/>
<rect x="2570.0" y="2053.17" width="511.0" height="9.03" fill="#3d4c89"/>
<rect x="2498.0" y="2062.20" width="583.0" height="9.03" fill="#472d7b"/>
<rect x="2498.0" y="2071.24" width="583.0" height="9.03" fill="#472d7b"/>
<rect x="2498.0" y="2080.27" width="55.0" height="9.03" fill="#424085"/>
<rect x="2553.0" y="2080.27" width="528.0" height="9.03" fill="#3d4c89"/>
<rect x="2498.0" y="2089.30" width="583.0" height="9.03" fill="#424085"/>
<rect x="2553.0" y="2098.33" width="528.0" height="9.03" fill="#472d7b"/>
<rect x="2570.0" y="2107.36" width="511.0" height="9.03" fill="#472d7b"/>
<rect x="2570.0" y="2116.39" width="511.0" height="9.03" fill="#471b6c"/>
<rect x="2553.0" y="2125.42" width="528.0" height="9.03" fill="#472d7b"/>
<rect x="2553.0" y="2152.51" width="528.0" height="9.03" fill="#471b6c"/>
<rect x="2498.0" y="2170.57" width="583.0" height="9.03" fill="#471365"/>
<rect x="211" y="627.0" width="3" height="29.0" fill="#0ecb81"/>
<rect x="214" y="638.0" width="3" height="3.5" fill="#0ecb81"/>
<rect x="219" y="616.2" width="3" height="24.2" fill="#0ecb81"/>
<rect x="222" y="619.8" width="3" height="18.2" fill="#0ecb81"/>
<rect x="227" y="608.0" width="3" height="12.0" fill="#0ecb81"/>
<rect x="230" y="615.6" width="3" height="4.2" fill="#0ecb81"/>
<rect x="235" y="615.2" width="3" height="45.8" fill="#f74a60"/>
<rect x="238" y="615.6" width="3" height="12.7" fill="#f74a60"/>
<rect x="243" y="622.9" width="3" height="8.5" fill="#f74a60"/>
<rect x="246" y="628.3" width="3" height="2.2" fill="#f74a60"/>
<rect x="251" y="620.0" width="3" height="230.0" fill="#f74a60"/>
<rect x="254" y="654.5" width="3" height="149.5" fill="#f74a60"/>
<rect x="259" y="714.0" width="3" height="262.0" fill="#f74a60"/>
<rect x="262" y="753.3" width="3" height="170.3" fill="#f74a60"/>
<rect x="267" y="731.9" width="3" height="244.1" fill="#0ecb81"/>
<rect x="270" y="760.0" width="3" height="63.9" fill="#0ecb81"/>
<rect x="274" y="758.0" width="3" height="33.6" fill="#f74a60"/>
<rect x="277" y="760.0" width="3" height="25.1" fill="#f74a60"/>
<rect x="282" y="781.3" width="3" height="145.7" fill="#f74a60"/>
<rect x="285" y="785.1" width="3" height="82.2" fill="#f74a60"/>
<rect x="290" y="709.0" width="3" height="97.0" fill="#0ecb81"/>
<rect x="293" y="788.6" width="3" height="17.4" fill="#0ecb81"/>
<rect x="298" y="734.2" width="3" height="71.8" fill="#0ecb81"/>
<rect x="301" y="734.9" width="3" height="53.7" fill="#0ecb81"/>
<rect x="306" y="685.0" width="3" height="105.5" fill="#f74a60"/>
<rect x="309" y="734.9" width="3" height="48.9" fill="#f74a60"/>
<rect x="314" y="773.0" width="3" height="82.0" fill="#0ecb81"/>
<rect x="317" y="782.7" width="3" height="2.0" fill="#0ecb81"/>
<rect x="322" y="775.5" width="3" height="12.0" fill="#f74a60"/>
<rect x="325" y="782.7" width="3" height="2.3" fill="#f74a60"/>
<rect x="330" y="724.0" width="3" height="69.9" fill="#0ecb81"/>
<rect x="333" y="773.1" width="3" height="11.8" fill="#0ecb81"/>
<rect x="338" y="770.2" width="3" height="35.8" fill="#f74a60"/>
<rect x="341" y="773.1" width="3" height="6.3" fill="#f74a60"/>
<rect x="346" y="603.0" width="3" height="198.0" fill="#0ecb81"/>
<rect x="349" y="642.6" width="3" height="128.7" fill="#0ecb81"/>
<rect x="354" y="598.4" width="3" height="68.5" fill="#0ecb81"/>
<rect x="357" y="607.6" width="3" height="58.4" fill="#0ecb81"/>
<rect x="362" y="562.0" width="3" height="98.2" fill="#f74a60"/>
<rect x="365" y="607.6" width="3" height="41.7" fill="#f74a60"/>
<rect x="370" y="643.4" width="3" height="70.6" fill="#f74a60"/>
<rect x="373" y="649.3" width="3" height="29.8" fill="#f74a60"/>
<rect x="378" y="569.0" width="3" height="111.0" fill="#0ecb81"/>
<rect x="381" y="642.5" width="3" height="36.5" fill="#0ecb81"/>
<rect x="385" y="630.6" width="3" height="34.8" fill="#f74a60"/>
<rect x="388" y="642.5" width="3" height="16.9" fill="#f74a60"/>
<rect x="393" y="584.0" width="3" height="84.3" fill="#0ecb81"/>
<rect x="396" y="650.8" width="3" height="8.7" fill="#0ecb81"/>
<rect x="401" y="635.3" width="3" height="49.7" fill="#0ecb81"/>
<rect x="404" y="647.9" width="3" height="2.9" fill="#0ecb81"/>
<rect x="409" y="642.0" width="3" height="155.0" fill="#f74a60"/>
<rect x="412" y="665.2" width="3" height="100.8" fill="#f74a60"/>
<rect x="417" y="652.8" width="3" height="144.2" fill="#0ecb81"/>
<rect x="420" y="661.8" width="3" height="20.7" fill="#0ecb81"/>
<rect x="425" y="748.0" width="3" height="7.1" fill="#f74a60"/>
<rect x="428" y="748.0" width="3" height="2.0" fill="#f74a60"/>
<rect x="433" y="748.4" width="3" height="52.6" fill="#f74a60"/>
<rect x="436" y="750.0" width="3" height="6.2" fill="#f74a60"/>
<rect x="441" y="772.0" width="3" height="96.8" fill="#f74a60"/>
<rect x="444" y="772.0" width="3" height="88.9" fill="#f74a60"/>
<rect x="449" y="772.0" width="3" height="103.3" fill="#0ecb81"/>
<rect x="452" y="850.9" width="3" height="9.9" fill="#0ecb81"/>
<rect x="457" y="846.0" width="3" height="67.0" fill="#f74a60"/>
<rect x="460" y="850.9" width="3" height="28.2" fill="#f74a60"/>
<rect x="465" y="855.0" width="3" height="155.0" fill="#f74a60"/>
<rect x="468" y="879.1" width="3" height="27.8" fill="#f74a60"/>
<rect x="473" y="966.0" width="3" height="315.0" fill="#f74a60"/>
<rect x="476" y="1013.2" width="3" height="204.8" fill="#f74a60"/>
<rect x="481" y="986.3" width="3" height="294.7" fill="#f74a60"/>
<rect x="484" y="1005.4" width="3" height="37.3" fill="#f74a60"/>
<rect x="489" y="1048.0" width="3" height="117.0" fill="#f74a60"/>
<rect x="492" y="1048.0" width="3" height="26.9" fill="#f74a60"/>
<rect x="496" y="748.0" width="3" height="397.0" fill="#0ecb81"/>
<rect x="499" y="827.4" width="3" height="258.1" fill="#0ecb81"/>
<rect x="504" y="748.0" width="3" height="278.6" fill="#f74a60"/>
<rect x="507" y="936.9" width="3" height="59.1" fill="#f74a60"/>
<rect x="512" y="993.3" width="3" height="151.7" fill="#f74a60"/>
<rect x="515" y="996.0" width="3" height="8.0" fill="#f74a60"/>
<rect x="520" y="954.4" width="3" height="76.1" fill="#0ecb81"/>
<rect x="523" y="983.4" width="3" height="20.5" fill="#0ecb81"/>
<rect x="528" y="782.0" width="3" height="204.9" fill="#0ecb81"/>
<rect x="531" y="909.2" width="3" height="74.2" fill="#0ecb81"/>
<rect x="536" y="907.2" width="3" height="140.8" fill="#f74a60"/>
<rect x="539" y="909.2" width="3" height="28.9" fill="#f74a60"/>
<rect x="544" y="935.3" width="3" height="12.7" fill="#f74a60"/>
<rect x="547" y="938.1" width="3" height="4.0" fill="#f74a60"/>
<rect x="552" y="908.0" width="3" height="36.7" fill="#0ecb81"/>
<rect x="555" y="928.1" width="3" height="14.0" fill="#0ecb81"/>
<rect x="560" y="921.8" width="3" height="8.6" fill="#f74a60"/>
<rect x="563" y="928.1" width="3" height="2.0" fill="#f74a60"/>
<rect x="568" y="919.3" width="3" height="127.7" fill="#f74a60"/>
<rect x="571" y="930.0" width="3" height="73.4" fill="#f74a60"/>
<rect x="576" y="953.2" width="3" height="56.5" fill="#0ecb81"/>
<rect x="579" y="959.3" width="3" height="44.1" fill="#0ecb81"/>
<rect x="584" y="886.6" width="3" height="95.0" fill="#0ecb81"/>
<rect x="587" y="905.7" width="3" height="53.6" fill="#0ecb81"/>
<rect x="592" y="894.8" width="3" height="44.1" fill="#f74a60"/>
<rect x="595" y="905.7" width="3" height="31.3" fill="#f74a60"/>
<rect x="600" y="860.0" width="3" height="82.9" fill="#0ecb81"/>
<rect x="603" y="898.7" width="3" height="38.3" fill="#0ecb81"/>
<rect x="608" y="895.1" width="3" height="85.4" fill="#f74a60"/>
<rect x="611" y="898.7" width="3" height="81.3" fill="#f74a60"/>
<rect x="615" y="968.1" width="3" height="71.9" fill="#f74a60"/>
<rect x="618" y="980.0" width="3" height="31.2" fill="#f74a60"/>
<rect x="623" y="966.9" width="3" height="56.2" fill="#0ecb81"/>
<rect x="626" y="967.5" width="3" height="43.7" fill="#0ecb81"/>
<rect x="631" y="953.6" width="3" height="99.9" fill="#f74a60"/>
<rect x="634" y="967.5" width="3" height="74.8" fill="#f74a60"/>
<rect x="639" y="988.4" width="3" height="56.6" fill="#0ecb81"/>
<rect x="642" y="994.3" width="3" height="48.0" fill="#0ecb81"/>
<rect x="647" y="985.7" width="3" height="56.4" fill="#f74a60"/>
<rect x="650" y="994.3" width="3" height="35.2" fill="#f74a60"/>
<rect x="655" y="944.0" width="3" height="98.6" fill="#0ecb81"/>
<rect x="658" y="997.8" width="3" height="31.8" fill="#0ecb81"/>
<rect x="663" y="984.0" width="3" height="77.9" fill="#f74a60"/>
<rect x="666" y="997.8" width="3" height="51.1" fill="#f74a60"/>
<rect x="671" y="1032.6" width="3" height="20.0" fill="#0ecb81"/>
<rect x="674" y="1044.5" width="3" height="4.4" fill="#0ecb81"/>
<rect x="679" y="1011.5" width="3" height="61.5" fill="#0ecb81"/>
<rect x="682" y="1017.2" width="3" height="27.3" fill="#0ecb81"/>
<rect x="687" y="964.3" width="3" height="57.1" fill="#0ecb81"/>
<rect x="690" y="968.8" width="3" height="48.4" fill="#0ecb81"/>
<rect x="695" y="953.4" width="3" height="71.3" fill="#f74a60"/>
<rect x="698" y="968.8" width="3" height="48.6" fill="#f74a60"/>
<rect x="703" y="1002.8" width="3" height="48.3" fill="#f74a60"/>
<rect x="706" y="1017.5" width="3" height="19.4" fill="#f74a60"/>
<rect x="711" y="991.1" width="3" height="49.1" fill="#0ecb81"/>
<rect x="714" y="994.4" width="3" height="42.4" fill="#0ecb81"/>
<rect x="719" y="938.0" width="3" height="65.7" fill="#0ecb81"/>
<rect x="722" y="972.3" width="3" height="22.1" fill="#0ecb81"/>
<rect x="726" y="959.8" width="3" height="72.2" fill="#f74a60"/>
<rect x="729" y="972.3" width="3" height="52.5" fill="#f74a60"/>
<rect x="734" y="1003.5" width="3" height="53.5" fill="#0ecb81"/>
<rect x="737" y="1015.4" width="3" height="9.5" fill="#0ecb81"/>
<rect x="742" y="1000.5" width="3" height="26.5" fill="#0ecb81"/>
<rect x="745" y="1014.1" width="3" height="2.0" fill="#0ecb81"/>
<rect x="750" y="1004.7" width="3" height="53.7" fill="#f74a60"/>
<rect x="753" y="1014.1" width="3" height="40.9" fill="#f74a60"/>
<rect x="758" y="954.0" width="3" height="128.9" fill="#f74a60"/>
<rect x="761" y="1054.9" width="3" height="12.3" fill="#f74a60"/>
<rect x="766" y="1059.5" width="3" height="37.4" fill="#f74a60"/>
<rect x="769" y="1067.3" width="3" height="21.8" fill="#f74a60"/>
<rect x="774" y="1075.0" width="3" height="35.0" fill="#f74a60"/>
<rect x="777" y="1089.1" width="3" height="2.0" fill="#f74a60"/>
<rect x="782" y="1001.3" width="3" height="107.2" fill="#0ecb81"/>
<rect x="785" y="1004.2" width="3" height="86.6" fill="#0ecb81"/>
<rect x="790" y="1001.8" width="3" height="59.3" fill="#f74a60"/>
<rect x="793" y="1004.2" width="3" height="43.0" fill="#f74a60"/>
<rect x="798" y="1036.2" width="3" height="41.3" fill="#f74a60"/>
<rect x="801" y="1047.2" width="3" height="24.4" fill="#f74a60"/>
<rect x="806" y="956.0" width="3" height="115.8" fill="#0ecb81"/>
<rect x="809" y="1037.2" width="3" height="34.4" fill="#0ecb81"/>
<rect x="814" y="1026.3" width="3" height="51.3" fill="#f74a60"/>
<rect x="817" y="1037.2" width="3" height="31.6" fill="#f74a60"/>
<rect x="822" y="1061.5" width="3" height="24.8" fill="#f74a60"/>
<rect x="825" y="1068.7" width="3" height="2.9" fill="#f74a60"/>
<rect x="830" y="1058.9" width="3" height="31.1" fill="#0ecb81"/>
<rect x="833" y="1062.5" width="3" height="9.2" fill="#0ecb81"/>
<rect x="837" y="1008.0" width="3" height="64.3" fill="#0ecb81"/>
<rect x="840" y="1012.0" width="3" height="50.4" fill="#0ecb81"/>
<rect x="845" y="991.9" width="3" height="22.4" fill="#0ecb81"/>
<rect x="848" y="998.9" width="3" height="13.1" fill="#0ecb81"/>
<rect x="853" y="923.0" width="3" height="101.0" fill="#f74a60"/>
<rect x="856" y="998.9" width="3" height="7.9" fill="#f74a60"/>
<rect x="861" y="996.8" width="3" height="20.6" fill="#f74a60"/>
<rect x="864" y="1006.7" width="3" height="6.0" fill="#f74a60"/>
<rect x="869" y="1007.2" width="3" height="32.6" fill="#f74a60"/>
<rect x="872" y="1012.7" width="3" height="21.2" fill="#f74a60"/>
<rect x="877" y="964.0" width="3" height="74.8" fill="#0ecb81"/>
<rect x="880" y="1014.6" width="3" height="19.3" fill="#0ecb81"/>
<rect x="885" y="990.3" width="3" height="33.1" fill="#0ecb81"/>
<rect x="888" y="990.4" width="3" height="24.2" fill="#0ecb81"/>
<rect x="893" y="979.7" width="3" height="18.7" fill="#0ecb81"/>
<rect x="896" y="984.9" width="3" height="5.5" fill="#0ecb81"/>
<rect x="901" y="981.3" width="3" height="70.7" fill="#f74a60"/>
<rect x="904" y="984.9" width="3" height="21.9" fill="#f74a60"/>
<rect x="909" y="998.1" width="3" height="14.1" fill="#f74a60"/>
<rect x="912" y="1006.8" width="3" height="4.3" fill="#f74a60"/>
<rect x="917" y="1008.3" width="3" height="6.9" fill="#f74a60"/>
<rect x="920" y="1011.1" width="3" height="2.0" fill="#f74a60"/>
<rect x="925" y="1007.0" width="3" height="64.0" fill="#f74a60"/>
<rect x="928" y="1012.2" width="3" height="52.0" fill="#f74a60"/>
<rect x="933" y="1053.3" width="3" height="25.9" fill="#f74a60"/>
<rect x="936" y="1064.2" width="3" height="9.6" fill="#f74a60"/>
<rect x="941" y="1060.0" width="3" height="19.9" fill="#0ecb81"/>
<rect x="944" y="1066.1" width="3" height="7.7" fill="#0ecb81"/>
<rect x="948" y="1007.0" width="3" height="69.2" fill="#f74a60"/>
<rect x="951" y="1066.1" width="3" height="3.7" fill="#f74a60"/>
<rect x="956" y="1045.2" width="3" height="33.0" fill="#0ecb81"/>
<rect x="959" y="1056.5" width="3" height="13.3" fill="#0ecb81"/>
<rect x="964" y="1045.2" width="3" height="37.8" fill="#f74a60"/>
<rect x="967" y="1056.5" width="3" height="23.4" fill="#f74a60"/>
<rect x="972" y="1052.5" width="3" height="50.5" fill="#0ecb81"/>
<rect x="975" y="1063.9" width="3" height="16.0" fill="#0ecb81"/>
<rect x="980" y="1031.6" width="3" height="37.5" fill="#0ecb81"/>
<rect x="983" y="1033.1" width="3" height="30.8" fill="#0ecb81"/>
<rect x="988" y="1019.8" width="3" height="14.1" fill="#0ecb81"/>
<rect x="991" y="1022.7" width="3" height="10.4" fill="#0ecb81"/>
<rect x="996" y="1009.9" width="3" height="44.9" fill="#f74a60"/>
<rect x="999" y="1022.7" width="3" height="17.3" fill="#f74a60"/>
<rect x="1004" y="985.9" width="3" height="65.0" fill="#0ecb81"/>
<rect x="1007" y="997.6" width="3" height="42.4" fill="#0ecb81"/>
<rect x="1012" y="960.0" width="3" height="53.5" fill="#0ecb81"/>
<rect x="1015" y="988.1" width="3" height="9.5" fill="#0ecb81"/>
<rect x="1020" y="972.5" width="3" height="27.0" fill="#f74a60"/>
<rect x="1023" y="988.1" width="3" height="4.9" fill="#f74a60"/>
<rect x="1028" y="976.8" width="3" height="114.2" fill="#f74a60"/>
<rect x="1031" y="993.0" width="3" height="24.8" fill="#f74a60"/>
<rect x="1036" y="986.8" width="3" height="39.6" fill="#0ecb81"/>
<rect x="1039" y="993.8" width="3" height="24.1" fill="#0ecb81"/>
<rect x="1044" y="945.4" width="3" height="18.6" fill="#0ecb81"/>
<rect x="1047" y="946.5" width="3" height="17.5" fill="#0ecb81"/>
<rect x="1052" y="918.0" width="3" height="34.2" fill="#f74a60"/>
<rect x="1055" y="946.5" width="3" height="2.5" fill="#f74a60"/>
<rect x="1060" y="940.6" width="3" height="23.4" fill="#0ecb81"/>
<rect x="1063" y="940.7" width="3" height="8.3" fill="#0ecb81"/>
<rect x="1067" y="937.8" width="3" height="7.4" fill="#f74a60"/>
<rect x="1070" y="940.7" width="3" height="4.1" fill="#f74a60"/>
<rect x="1075" y="893.0" width="3" height="120.0" fill="#f74a60"/>
<rect x="1078" y="911.0" width="3" height="78.0" fill="#f74a60"/>
<rect x="1083" y="998.0" width="3" height="15.9" fill="#f74a60"/>
<rect x="1086" y="998.0" width="3" height="15.3" fill="#f74a60"/>
<rect x="1091" y="1009.2" width="3" height="66.4" fill="#f74a60"/>
<rect x="1094" y="1013.3" width="3" height="60.3" fill="#f74a60"/>
<rect x="1099" y="1041.8" width="3" height="44.4" fill="#0ecb81"/>
<rect x="1102" y="1055.8" width="3" height="17.8" fill="#0ecb81"/>
<rect x="1107" y="1036.3" width="3" height="33.7" fill="#0ecb81"/>
<rect x="1110" y="1038.6" width="3" height="17.2" fill="#0ecb81"/>
<rect x="1115" y="998.0" width="3" height="64.6" fill="#f74a60"/>
<rect x="1118" y="1038.6" width="3" height="22.6" fill="#f74a60"/>
<rect x="1123" y="1012.3" width="3" height="55.5" fill="#0ecb81"/>
<rect x="1126" y="1022.8" width="3" height="38.4" fill="#0ecb81"/>
<rect x="1131" y="1002.0" width="3" height="30.6" fill="#0ecb81"/>
<rect x="1134" y="1016.4" width="3" height="6.4" fill="#0ecb81"/>
<rect x="1139" y="1015.1" width="3" height="74.2" fill="#f74a60"/>
<rect x="1142" y="1016.4" width="3" height="59.7" fill="#f74a60"/>
<rect x="1147" y="1013.3" width="3" height="107.7" fill="#0ecb81"/>
<rect x="1150" y="1026.6" width="3" height="49.5" fill="#0ecb81"/>
<rect x="1155" y="1018.1" width="3" height="35.6" fill="#f74a60"/>
<rect x="1158" y="1026.6" width="3" height="12.9" fill="#f74a60"/>
<rect x="1163" y="1034.1" width="3" height="13.5" fill="#0ecb81"/>
<rect x="1166" y="1036.1" width="3" height="3.4" fill="#0ecb81"/>
<rect x="1171" y="1031.3" width="3" height="7.3" fill="#0ecb81"/>
<rect x="1174" y="1032.9" width="3" height="3.1" fill="#0ecb81"/>
<rect x="1178" y="1106.0" width="3" height="194.0" fill="#f74a60"/>
<rect x="1181" y="1135.1" width="3" height="126.1" fill="#f74a60"/>
<rect x="1186" y="1300.0" width="3" height="186.0" fill="#f74a60"/>
<rect x="1189" y="1327.9" width="3" height="120.9" fill="#f74a60"/>
<rect x="1194" y="1203.4" width="3" height="282.6" fill="#f74a60"/>
<rect x="1197" y="1211.9" width="3" height="67.3" fill="#f74a60"/>
<rect x="1202" y="1359.0" width="3" height="9.3" fill="#f74a60"/>
<rect x="1205" y="1359.0" width="3" height="8.6" fill="#f74a60"/>
<rect x="1210" y="1359.0" width="3" height="199.7" fill="#f74a60"/>
<rect x="1213" y="1367.6" width="3" height="183.0" fill="#f74a60"/>
<rect x="1218" y="1487.8" width="3" height="67.4" fill="#0ecb81"/>
<rect x="1221" y="1527.5" width="3" height="23.1" fill="#0ecb81"/>
<rect x="1226" y="1509.1" width="3" height="189.9" fill="#f74a60"/>
<rect x="1229" y="1527.5" width="3" height="74.9" fill="#f74a60"/>
<rect x="1234" y="1413.0" width="3" height="286.0" fill="#f74a60"/>
<rect x="1237" y="1455.9" width="3" height="185.9" fill="#f74a60"/>
<rect x="1242" y="1564.1" width="3" height="54.9" fill="#0ecb81"/>
<rect x="1245" y="1581.3" width="3" height="37.7" fill="#0ecb81"/>
<rect x="1250" y="1479.0" width="3" height="119.2" fill="#f74a60"/>
<rect x="1253" y="1581.3" width="3" height="5.8" fill="#f74a60"/>
<rect x="1258" y="1541.5" width="3" height="77.5" fill="#0ecb81"/>
<rect x="1261" y="1547.5" width="3" height="39.5" fill="#0ecb81"/>
<rect x="1266" y="1512.2" width="3" height="48.3" fill="#0ecb81"/>
<rect x="1269" y="1513.5" width="3" height="34.1" fill="#0ecb81"/>
<rect x="1274" y="1579.0" width="3" height="63.4" fill="#f74a60"/>
<rect x="1277" y="1579.0" width="3" height="60.1" fill="#f74a60"/>
<rect x="1282" y="1700.0" width="3" height="192.0" fill="#f74a60"/>
<rect x="1285" y="1728.8" width="3" height="124.8" fill="#f74a60"/>
<rect x="1289" y="1690.3" width="3" height="201.7" fill="#0ecb81"/>
<rect x="1292" y="1699.8" width="3" height="89.1" fill="#0ecb81"/>
<rect x="1297" y="1693.6" width="3" height="43.6" fill="#f74a60"/>
<rect x="1300" y="1699.8" width="3" height="20.0" fill="#f74a60"/>
<rect x="1305" y="1578.8" width="3" height="177.4" fill="#0ecb81"/>
<rect x="1308" y="1614.8" width="3" height="104.9" fill="#0ecb81"/>
<rect x="1313" y="1605.7" width="3" height="82.3" fill="#f74a60"/>
<rect x="1316" y="1614.8" width="3" height="36.9" fill="#f74a60"/>
<rect x="1321" y="1499.0" width="3" height="152.8" fill="#0ecb81"/>
<rect x="1324" y="1610.7" width="3" height="41.1" fill="#0ecb81"/>
<rect x="1329" y="1592.9" width="3" height="43.1" fill="#f74a60"/>
<rect x="1332" y="1610.7" width="3" height="6.5" fill="#f74a60"/>
<rect x="1337" y="1562.7" width="3" height="236.3" fill="#0ecb81"/>
<rect x="1340" y="1581.6" width="3" height="35.6" fill="#0ecb81"/>
<rect x="1345" y="1578.3" width="3" height="24.1" fill="#f74a60"/>
<rect x="1348" y="1581.6" width="3" height="5.8" fill="#f74a60"/>
<rect x="1353" y="1542.3" width="3" height="56.5" fill="#0ecb81"/>
<rect x="1356" y="1543.2" width="3" height="44.2" fill="#0ecb81"/>
<rect x="1361" y="1100.0" width="3" height="466.0" fill="#0ecb81"/>
<rect x="1364" y="1193.2" width="3" height="302.9" fill="#0ecb81"/>
<rect x="1369" y="1100.0" width="3" height="345.6" fill="#f74a60"/>
<rect x="1372" y="1290.4" width="3" height="113.5" fill="#f74a60"/>
<rect x="1377" y="1381.2" width="3" height="184.8" fill="#f74a60"/>
<rect x="1380" y="1403.9" width="3" height="63.4" fill="#f74a60"/>
<rect x="1385" y="1166.0" width="3" height="400.0" fill="#f74a60"/>
<rect x="1388" y="1226.0" width="3" height="260.0" fill="#f74a60"/>
<rect x="1393" y="1511.1" width="3" height="102.6" fill="#f74a60"/>
<rect x="1396" y="1513.5" width="3" height="55.0" fill="#f74a60"/>
<rect x="1400" y="1306.0" width="3" height="386.0" fill="#f74a60"/>
<rect x="1403" y="1363.9" width="3" height="250.9" fill="#f74a60"/>
<rect x="1408" y="1638.5" width="3" height="42.5" fill="#0ecb81"/>
<rect x="1411" y="1646.1" width="3" height="6.6" fill="#0ecb81"/>
<rect x="1416" y="1508.9" width="3" height="237.1" fill="#0ecb81"/>
<rect x="1419" y="1554.1" width="3" height="92.0" fill="#0ecb81"/>
<rect x="1424" y="1546.0" width="3" height="200.0" fill="#0ecb81"/>
<rect x="1427" y="1586.0" width="3" height="130.0" fill="#0ecb81"/>
<rect x="1432" y="1473.4" width="3" height="72.6" fill="#0ecb81"/>
<rect x="1435" y="1494.8" width="3" height="51.2" fill="#0ecb81"/>
<rect x="1440" y="1299.0" width="3" height="207.0" fill="#0ecb81"/>
<rect x="1443" y="1358.2" width="3" height="136.6" fill="#0ecb81"/>
<rect x="1448" y="1317.5" width="3" height="58.0" fill="#0ecb81"/>
<rect x="1451" y="1343.3" width="3" height="14.9" fill="#0ecb81"/>
<rect x="1456" y="1324.0" width="3" height="222.0" fill="#f74a60"/>
<rect x="1459" y="1343.3" width="3" height="84.8" fill="#f74a60"/>
<rect x="1464" y="1421.7" width="3" height="31.0" fill="#0ecb81"/>
<rect x="1467" y="1421.8" width="3" height="6.3" fill="#0ecb81"/>
<rect x="1472" y="1206.0" width="3" height="380.0" fill="#0ecb81"/>
<rect x="1475" y="1282.0" width="3" height="247.0" fill="#0ecb81"/>
<rect x="1480" y="1206.0" width="3" height="233.0" fill="#f74a60"/>
<rect x="1483" y="1241.0" width="3" height="151.5" fill="#f74a60"/>
<rect x="1488" y="1206.0" width="3" height="257.6" fill="#0ecb81"/>
<rect x="1491" y="1343.0" width="3" height="108.1" fill="#0ecb81"/>
<rect x="1496" y="1333.2" width="3" height="146.6" fill="#f74a60"/>
<rect x="1499" y="1343.0" width="3" height="101.7" fill="#f74a60"/>
<rect x="1504" y="1421.2" width="3" height="164.8" fill="#f74a60"/>
<rect x="1507" y="1444.7" width="3" height="84.0" fill="#f74a60"/>
<rect x="1512" y="1384.6" width="3" height="180.5" fill="#0ecb81"/>
<rect x="1515" y="1417.1" width="3" height="111.6" fill="#0ecb81"/>
<rect x="1519" y="1386.6" width="3" height="47.6" fill="#f74a60"/>
<rect x="1522" y="1417.1" width="3" height="13.3" fill="#f74a60"/>
<rect x="1527" y="1499.0" width="3" height="10.1" fill="#f74a60"/>
<rect x="1530" y="1499.0" width="3" height="2.0" fill="#f74a60"/>
<rect x="1535" y="1499.0" width="3" height="23.8" fill="#f74a60"/>
<rect x="1538" y="1501.0" width="3" height="21.6" fill="#f74a60"/>
<rect x="1543" y="1499.0" width="3" height="30.9" fill="#0ecb81"/>
<rect x="1546" y="1512.5" width="3" height="10.1" fill="#0ecb81"/>
<rect x="1551" y="1505.2" width="3" height="45.9" fill="#f74a60"/>
<rect x="1554" y="1512.5" width="3" height="35.3" fill="#f74a60"/>
<rect x="1559" y="1539.5" width="3" height="46.5" fill="#0ecb81"/>
<rect x="1562" y="1544.6" width="3" height="3.3" fill="#0ecb81"/>
<rect x="1567" y="1510.6" width="3" height="36.1" fill="#0ecb81"/>
<rect x="1570" y="1520.3" width="3" height="24.2" fill="#0ecb81"/>
<rect x="1575" y="1510.2" width="3" height="56.4" fill="#f74a60"/>
<rect x="1578" y="1520.3" width="3" height="46.0" fill="#f74a60"/>
<rect x="1583" y="1579.0" width="3" height="112.4" fill="#f74a60"/>
<rect x="1586" y="1579.0" width="3" height="84.2" fill="#f74a60"/>
<rect x="1591" y="1579.0" width="3" height="108.1" fill="#f74a60"/>
<rect x="1594" y="1663.2" width="3" height="17.9" fill="#f74a60"/>
<rect x="1599" y="1674.9" width="3" height="137.1" fill="#f74a60"/>
<rect x="1602" y="1681.0" width="3" height="82.2" fill="#f74a60"/>
<rect x="1607" y="1637.0" width="3" height="153.9" fill="#0ecb81"/>
<rect x="1610" y="1652.3" width="3" height="110.9" fill="#0ecb81"/>
<rect x="1615" y="1612.0" width="3" height="280.0" fill="#f74a60"/>
<rect x="1618" y="1654.0" width="3" height="182.0" fill="#f74a60"/>
<rect x="1623" y="1612.0" width="3" height="256.5" fill="#f74a60"/>
<rect x="1626" y="1673.1" width="3" height="185.2" fill="#f74a60"/>
<rect x="1630" y="1706.0" width="3" height="259.0" fill="#0ecb81"/>
<rect x="1633" y="1757.8" width="3" height="168.4" fill="#0ecb81"/>
<rect x="1638" y="1669.5" width="3" height="248.3" fill="#0ecb81"/>
<rect x="1641" y="1691.2" width="3" height="206.7" fill="#0ecb81"/>
<rect x="1646" y="1687.3" width="3" height="23.0" fill="#f74a60"/>
<rect x="1649" y="1691.2" width="3" height="9.7" fill="#f74a60"/>
<rect x="1654" y="1630.0" width="3" height="75.0" fill="#f74a60"/>
<rect x="1657" y="1700.9" width="3" height="4.1" fill="#f74a60"/>
<rect x="1662" y="1681.8" width="3" height="169.2" fill="#f74a60"/>
<rect x="1665" y="1704.9" width="3" height="66.1" fill="#f74a60"/>
<rect x="1670" y="1751.4" width="3" height="84.2" fill="#f74a60"/>
<rect x="1673" y="1771.1" width="3" height="39.6" fill="#f74a60"/>
<rect x="1678" y="1597.0" width="3" height="182.0" fill="#f74a60"/>
<rect x="1681" y="1624.3" width="3" height="118.3" fill="#f74a60"/>
<rect x="1686" y="1597.0" width="3" height="189.1" fill="#f74a60"/>
<rect x="1689" y="1695.3" width="3" height="81.0" fill="#f74a60"/>
<rect x="1694" y="1701.3" width="3" height="111.7" fill="#0ecb81"/>
<rect x="1697" y="1708.7" width="3" height="67.6" fill="#0ecb81"/>
<rect x="1702" y="1624.7" width="3" height="91.7" fill="#0ecb81"/>
<rect x="1705" y="1647.2" width="3" height="61.5" fill="#0ecb81"/>
<rect x="1710" y="1618.0" width="3" height="190.0" fill="#f74a60"/>
<rect x="1713" y="1646.5" width="3" height="123.5" fill="#f74a60"/>
<rect x="1718" y="1702.0" width="3" height="106.0" fill="#0ecb81"/>
<rect x="1721" y="1723.2" width="3" height="68.9" fill="#0ecb81"/>
<rect x="1726" y="1719.9" width="3" height="88.1" fill="#f74a60"/>
<rect x="1729" y="1737.1" width="3" height="42.7" fill="#f74a60"/>
<rect x="1734" y="1736.0" width="3" height="62.1" fill="#0ecb81"/>
<rect x="1737" y="1753.8" width="3" height="26.0" fill="#0ecb81"/>
<rect x="1741" y="1625.0" width="3" height="14.0" fill="#0ecb81"/>
<rect x="1744" y="1632.3" width="3" height="6.7" fill="#0ecb81"/>
<rect x="1749" y="1613.5" width="3" height="25.5" fill="#0ecb81"/>
<rect x="1752" y="1618.1" width="3" height="14.2" fill="#0ecb81"/>
<rect x="1757" y="1558.0" width="3" height="60.6" fill="#0ecb81"/>
<rect x="1760" y="1610.4" width="3" height="7.7" fill="#0ecb81"/>
<rect x="1765" y="1609.1" width="3" height="20.1" fill="#f74a60"/>
<rect x="1768" y="1610.4" width="3" height="14.0" fill="#f74a60"/>
<rect x="1773" y="1592.1" width="3" height="46.9" fill="#0ecb81"/>
<rect x="1776" y="1595.1" width="3" height="29.3" fill="#0ecb81"/>
<rect x="1781" y="1592.4" width="3" height="38.3" fill="#f74a60"/>
<rect x="1784" y="1595.1" width="3" height="29.0" fill="#f74a60"/>
<rect x="1789" y="1607.3" width="3" height="24.1" fill="#0ecb81"/>
<rect x="1792" y="1617.6" width="3" height="6.5" fill="#0ecb81"/>
<rect x="1797" y="1599.8" width="3" height="21.6" fill="#0ecb81"/>
<rect x="1800" y="1602.8" width="3" height="14.7" fill="#0ecb81"/>
<rect x="1805" y="1567.0" width="3" height="111.3" fill="#f74a60"/>
<rect x="1808" y="1602.8" width="3" height="71.4" fill="#f74a60"/>
<rect x="1813" y="1655.8" width="3" height="41.1" fill="#f74a60"/>
<rect x="1816" y="1674.2" width="3" height="14.3" fill="#f74a60"/>
<rect x="1821" y="1610.7" width="3" height="79.5" fill="#0ecb81"/>
<rect x="1824" y="1614.2" width="3" height="74.3" fill="#0ecb81"/>
<rect x="1829" y="1612.5" width="3" height="102.5" fill="#f74a60"/>
<rect x="1832" y="1614.2" width="3" height="5.5" fill="#f74a60"/>
<rect x="1837" y="1601.9" width="3" height="34.3" fill="#0ecb81"/>
<rect x="1840" y="1612.4" width="3" height="7.3" fill="#0ecb81"/>
<rect x="1845" y="1604.8" width="3" height="63.3" fill="#f74a60"/>
<rect x="1848" y="1612.4" width="3" height="48.0" fill="#f74a60"/>
<rect x="1853" y="1654.1" width="3" height="34.4" fill="#f74a60"/>
<rect x="1856" y="1660.4" width="3" height="22.3" fill="#f74a60"/>
<rect x="1860" y="1618.0" width="3" height="81.0" fill="#0ecb81"/>
<rect x="1863" y="1644.7" width="3" height="38.0" fill="#0ecb81"/>
<rect x="1868" y="1634.5" width="3" height="118.5" fill="#0ecb81"/>
<rect x="1871" y="1643.0" width="3" height="2.0" fill="#0ecb81"/>
<rect x="1876" y="1639.4" width="3" height="75.5" fill="#f74a60"/>
<rect x="1879" y="1643.0" width="3" height="67.3" fill="#f74a60"/>
<rect x="1884" y="1625.7" width="3" height="64.3" fill="#0ecb81"/>
<rect x="1887" y="1631.2" width="3" height="58.8" fill="#0ecb81"/>
<rect x="1892" y="1580.0" width="3" height="100.2" fill="#f74a60"/>
<rect x="1895" y="1631.2" width="3" height="37.0" fill="#f74a60"/>
<rect x="1900" y="1605.4" width="3" height="84.6" fill="#0ecb81"/>
<rect x="1903" y="1605.9" width="3" height="62.3" fill="#0ecb81"/>
<rect x="1908" y="1478.0" width="3" height="161.0" fill="#0ecb81"/>
<rect x="1911" y="1510.2" width="3" height="104.6" fill="#0ecb81"/>
<rect x="1916" y="1455.0" width="3" height="184.0" fill="#f74a60"/>
<rect x="1919" y="1482.6" width="3" height="119.6" fill="#f74a60"/>
<rect x="1924" y="1455.0" width="3" height="147.1" fill="#f74a60"/>
<rect x="1927" y="1506.8" width="3" height="72.9" fill="#f74a60"/>
<rect x="1932" y="1519.6" width="3" height="119.4" fill="#0ecb81"/>
<rect x="1935" y="1522.1" width="3" height="57.6" fill="#0ecb81"/>
<rect x="1940" y="1506.4" width="3" height="60.1" fill="#f74a60"/>
<rect x="1943" y="1522.1" width="3" height="22.7" fill="#f74a60"/>
<rect x="1948" y="1580.0" width="3" height="31.1" fill="#f74a60"/>
<rect x="1951" y="1580.0" width="3" height="25.5" fill="#f74a60"/>
<rect x="1956" y="1601.4" width="3" height="5.9" fill="#f74a60"/>
<rect x="1959" y="1605.5" width="3" height="2.0" fill="#f74a60"/>
<rect x="1964" y="1605.3" width="3" height="21.8" fill="#f74a60"/>
<rect x="1967" y="1607.0" width="3" height="13.3" fill="#f74a60"/>
<rect x="1971" y="1580.0" width="3" height="41.3" fill="#0ecb81"/>
<rect x="1974" y="1617.5" width="3" height="2.8" fill="#0ecb81"/>
<rect x="1979" y="1596.4" width="3" height="26.2" fill="#0ecb81"/>
<rect x="1982" y="1601.1" width="3" height="16.4" fill="#0ecb81"/>
<rect x="1987" y="1591.7" width="3" height="13.3" fill="#0ecb81"/>
<rect x="1990" y="1592.3" width="3" height="8.9" fill="#0ecb81"/>
<rect x="1995" y="1589.4" width="3" height="49.6" fill="#f74a60"/>
<rect x="1998" y="1592.3" width="3" height="17.1" fill="#f74a60"/>
<rect x="2003" y="1609.3" width="3" height="6.5" fill="#f74a60"/>
<rect x="2006" y="1609.4" width="3" height="4.2" fill="#f74a60"/>
<rect x="2011" y="1601.7" width="3" height="16.6" fill="#0ecb81"/>
<rect x="2014" y="1608.7" width="3" height="4.8" fill="#0ecb81"/>
<rect x="2019" y="1586.0" width="3" height="26.8" fill="#0ecb81"/>
<rect x="2022" y="1594.0" width="3" height="14.7" fill="#0ecb81"/>
<rect x="2027" y="1478.0" width="3" height="128.0" fill="#0ecb81"/>
<rect x="2030" y="1532.2" width="3" height="61.8" fill="#0ecb81"/>
<rect x="2035" y="1525.1" width="3" height="15.6" fill="#0ecb81"/>
<rect x="2038" y="1525.4" width="3" height="6.8" fill="#0ecb81"/>
<rect x="2043" y="1518.3" width="3" height="95.7" fill="#f74a60"/>
<rect x="2046" y="1525.4" width="3" height="32.6" fill="#f74a60"/>
<rect x="2051" y="1542.3" width="3" height="25.4" fill="#f74a60"/>
<rect x="2054" y="1558.0" width="3" height="5.9" fill="#f74a60"/>
<rect x="2059" y="1436.1" width="3" height="100.9" fill="#0ecb81"/>
<rect x="2062" y="1442.0" width="3" height="95.0" fill="#0ecb81"/>
<rect x="2067" y="1438.6" width="3" height="54.8" fill="#f74a60"/>
<rect x="2070" y="1442.0" width="3" height="37.4" fill="#f74a60"/>
<rect x="2075" y="1470.5" width="3" height="25.3" fill="#f74a60"/>
<rect x="2078" y="1479.4" width="3" height="12.9" fill="#f74a60"/>
<rect x="2082" y="1486.8" width="3" height="44.3" fill="#f74a60"/>
<rect x="2085" y="1492.2" width="3" height="24.5" fill="#f74a60"/>
<rect x="2090" y="1447.5" width="3" height="82.6" fill="#0ecb81"/>
<rect x="2093" y="1451.3" width="3" height="65.5" fill="#0ecb81"/>
<rect x="2098" y="1397.0" width="3" height="63.0" fill="#0ecb81"/>
<rect x="2101" y="1444.3" width="3" height="7.0" fill="#0ecb81"/>
<rect x="2106" y="1428.8" width="3" height="22.8" fill="#0ecb81"/>
<rect x="2109" y="1432.7" width="3" height="11.6" fill="#0ecb81"/>
<rect x="2114" y="1416.1" width="3" height="62.3" fill="#f74a60"/>
<rect x="2117" y="1432.7" width="3" height="43.2" fill="#f74a60"/>
<rect x="2122" y="1454.9" width="3" height="38.0" fill="#0ecb81"/>
<rect x="2125" y="1458.6" width="3" height="17.2" fill="#0ecb81"/>
<rect x="2130" y="1430.3" width="3" height="29.4" fill="#0ecb81"/>
<rect x="2133" y="1431.2" width="3" height="27.4" fill="#0ecb81"/>
<rect x="2138" y="1415.5" width="3" height="121.5" fill="#f74a60"/>
<rect x="2141" y="1431.2" width="3" height="18.5" fill="#f74a60"/>
<rect x="2146" y="1432.2" width="3" height="69.8" fill="#f74a60"/>
<rect x="2149" y="1449.7" width="3" height="36.0" fill="#f74a60"/>
<rect x="2154" y="1451.2" width="3" height="50.8" fill="#0ecb81"/>
<rect x="2157" y="1454.5" width="3" height="31.2" fill="#0ecb81"/>
<rect x="2162" y="1453.9" width="3" height="45.6" fill="#f74a60"/>
<rect x="2165" y="1454.5" width="3" height="33.5" fill="#f74a60"/>
<rect x="2170" y="1453.1" width="3" height="40.7" fill="#0ecb81"/>
<rect x="2173" y="1459.6" width="3" height="28.3" fill="#0ecb81"/>
<rect x="2178" y="1512.0" width="3" height="203.0" fill="#f74a60"/>
<rect x="2181" y="1542.5" width="3" height="132.0" fill="#f74a60"/>
<rect x="2186" y="1512.0" width="3" height="68.8" fill="#f74a60"/>
<rect x="2189" y="1537.1" width="3" height="40.6" fill="#f74a60"/>
<rect x="2194" y="1572.4" width="3" height="107.0" fill="#f74a60"/>
<rect x="2197" y="1577.7" width="3" height="92.7" fill="#f74a60"/>
<rect x="2201" y="1648.4" width="3" height="66.6" fill="#0ecb81"/>
<rect x="2204" y="1669.3" width="3" height="2.0" fill="#0ecb81"/>
<rect x="2209" y="1550.4" width="3" height="128.3" fill="#0ecb81"/>
<rect x="2212" y="1562.4" width="3" height="106.8" fill="#0ecb81"/>
<rect x="2217" y="1647.0" width="3" height="57.6" fill="#f74a60"/>
<rect x="2220" y="1647.0" width="3" height="53.0" fill="#f74a60"/>
<rect x="2225" y="1699.6" width="3" height="31.6" fill="#f74a60"/>
<rect x="2228" y="1700.0" width="3" height="25.9" fill="#f74a60"/>
<rect x="2233" y="1647.0" width="3" height="79.5" fill="#0ecb81"/>
<rect x="2236" y="1725.2" width="3" height="2.0" fill="#0ecb81"/>
<rect x="2241" y="1670.4" width="3" height="66.6" fill="#0ecb81"/>
<rect x="2244" y="1671.2" width="3" height="54.0" fill="#0ecb81"/>
<rect x="2249" y="1661.7" width="3" height="87.3" fill="#f74a60"/>
<rect x="2252" y="1671.2" width="3" height="4.6" fill="#f74a60"/>
<rect x="2257" y="1672.3" width="3" height="22.3" fill="#f74a60"/>
<rect x="2260" y="1675.8" width="3" height="6.6" fill="#f74a60"/>
<rect x="2265" y="1679.1" width="3" height="33.1" fill="#f74a60"/>
<rect x="2268" y="1682.4" width="3" height="20.6" fill="#f74a60"/>
<rect x="2273" y="1670.0" width="3" height="33.0" fill="#0ecb81"/>
<rect x="2276" y="1674.1" width="3" height="28.8" fill="#0ecb81"/>
<rect x="2281" y="1626.0" width="3" height="87.3" fill="#f74a60"/>
<rect x="2284" y="1674.1" width="3" height="29.8" fill="#f74a60"/>
<rect x="2289" y="1703.6" width="3" height="25.0" fill="#f74a60"/>
<rect x="2292" y="1703.9" width="3" height="21.1" fill="#f74a60"/>
<rect x="2297" y="1677.2" width="3" height="67.8" fill="#0ecb81"/>
<rect x="2300" y="1691.4" width="3" height="33.6" fill="#0ecb81"/>
<rect x="2305" y="1673.8" width="3" height="24.0" fill="#0ecb81"/>
<rect x="2308" y="1677.5" width="3" height="13.9" fill="#0ecb81"/>
<rect x="2312" y="1612.6" width="3" height="68.2" fill="#0ecb81"/>
<rect x="2315" y="1629.3" width="3" height="48.2" fill="#0ecb81"/>
<rect x="2320" y="1546.0" width="3" height="118.7" fill="#f74a60"/>
<rect x="2323" y="1629.3" width="3" height="20.6" fill="#f74a60"/>
<rect x="2328" y="1638.9" width="3" height="18.0" fill="#f74a60"/>
<rect x="2331" y="1649.9" width="3" height="2.0" fill="#f74a60"/>
<rect x="2336" y="1600.4" width="3" height="89.6" fill="#0ecb81"/>
<rect x="2339" y="1606.9" width="3" height="44.1" fill="#0ecb81"/>
<rect x="2344" y="1465.0" width="3" height="132.0" fill="#0ecb81"/>
<rect x="2347" y="1491.4" width="3" height="85.8" fill="#0ecb81"/>
<rect x="2352" y="1408.0" width="3" height="290.0" fill="#f74a60"/>
<rect x="2355" y="1451.5" width="3" height="188.5" fill="#f74a60"/>
<rect x="2360" y="1497.4" width="3" height="209.6" fill="#f74a60"/>
<rect x="2363" y="1509.5" width="3" height="49.1" fill="#f74a60"/>
<rect x="2368" y="1623.0" width="3" height="43.3" fill="#f74a60"/>
<rect x="2371" y="1623.0" width="3" height="40.6" fill="#f74a60"/>
<rect x="2376" y="1623.0" width="3" height="45.7" fill="#0ecb81"/>
<rect x="2379" y="1640.6" width="3" height="23.0" fill="#0ecb81"/>
<rect x="2384" y="1636.1" width="3" height="36.8" fill="#f74a60"/>
<rect x="2387" y="1640.6" width="3" height="29.9" fill="#f74a60"/>
<rect x="2392" y="1654.0" width="3" height="50.0" fill="#0ecb81"/>
<rect x="2395" y="1660.3" width="3" height="10.2" fill="#0ecb81"/>
<rect x="2400" y="1651.7" width="3" height="31.5" fill="#f74a60"/>
<rect x="2403" y="1660.3" width="3" height="16.2" fill="#f74a60"/>
<rect x="2408" y="1609.4" width="3" height="72.3" fill="#0ecb81"/>
<rect x="2411" y="1624.3" width="3" height="52.2" fill="#0ecb81"/>
<rect x="2416" y="1586.0" width="3" height="84.0" fill="#f74a60"/>
<rect x="2419" y="1624.3" width="3" height="32.6" fill="#f74a60"/>
<rect x="2423" y="1623.5" width="3" height="104.5" fill="#0ecb81"/>
<rect x="2426" y="1627.9" width="3" height="29.0" fill="#0ecb81"/>
<rect x="2431" y="1602.0" width="3" height="36.2" fill="#0ecb81"/>
<rect x="2434" y="1617.7" width="3" height="10.2" fill="#0ecb81"/>
<rect x="2439" y="1636.0" width="3" height="21.1" fill="#f74a60"/>
<rect x="2442" y="1636.0" width="3" height="13.5" fill="#f74a60"/>
<rect x="2447" y="1636.0" width="3" height="33.6" fill="#f74a60"/>
<rect x="2450" y="1649.5" width="3" height="13.9" fill="#f74a60"/>
<rect x="2455" y="1655.9" width="3" height="17.2" fill="#f74a60"/>
<rect x="2458" y="1663.4" width="3" height="8.8" fill="#f74a60"/>
<rect x="2463" y="1660.4" width="3" height="36.6" fill="#0ecb81"/>
<rect x="2466" y="1666.6" width="3" height="5.6" fill="#0ecb81"/>
<rect x="2471" y="1667.0" width="3" height="111.0" fill="#f74a60"/>
<rect x="2474" y="1683.7" width="3" height="72.1" fill="#f74a60"/>
<rect x="2479" y="1667.0" width="3" height="111.0" fill="#f74a60"/>
<rect x="2482" y="1683.7" width="3" height="2.3" fill="#f74a60"/>
<rect x="2487" y="1765.0" width="3" height="179.0" fill="#f74a60"/>
<rect x="2490" y="1791.8" width="3" height="116.4" fill="#f74a60"/>
<rect x="2495" y="1765.0" width="3" height="231.0" fill="#f74a60"/>
<rect x="2498" y="1887.5" width="3" height="98.6" fill="#f74a60"/>
<rect x="2503" y="1944.0" width="3" height="124.0" fill="#f74a60"/>
<rect x="2506" y="1962.6" width="3" height="80.6" fill="#f74a60"/>
<rect x="2511" y="1879.1" width="3" height="77.9" fill="#0ecb81"/>
<rect x="2514" y="1894.9" width="3" height="62.1" fill="#0ecb81"/>
<rect x="2519" y="1753.0" width="3" height="147.1" fill="#0ecb81"/>
<rect x="2522" y="1844.8" width="3" height="50.1" fill="#0ecb81"/>
<rect x="2527" y="1803.7" width="3" height="153.3" fill="#0ecb81"/>
<rect x="2530" y="1819.0" width="3" height="25.8" fill="#0ecb81"/>
<rect x="2534" y="1806.4" width="3" height="20.9" fill="#0ecb81"/>
<rect x="2537" y="1806.7" width="3" height="12.3" fill="#0ecb81"/>
<rect x="2542" y="1901.0" width="3" height="71.3" fill="#f74a60"/>
<rect x="2545" y="1901.0" width="3" height="65.1" fill="#f74a60"/>
<rect x="2550" y="1901.0" width="3" height="76.1" fill="#0ecb81"/>
<rect x="2553" y="1945.9" width="3" height="20.1" fill="#0ecb81"/>
<rect x="2558" y="1924.5" width="3" height="137.5" fill="#0ecb81"/>
<rect x="2561" y="1926.6" width="3" height="19.4" fill="#0ecb81"/>
<rect x="2566" y="1913.7" width="3" height="64.1" fill="#f74a60"/>
<rect x="2569" y="1926.6" width="3" height="49.4" fill="#f74a60"/>
<rect x="2574" y="1642.0" width="3" height="364.0" fill="#0ecb81"/>
<rect x="2577" y="1714.8" width="3" height="236.6" fill="#0ecb81"/>
<rect x="2582" y="1715.2" width="3" height="63.6" fill="#0ecb81"/>
<rect x="2585" y="1724.5" width="3" height="25.6" fill="#0ecb81"/>
<rect x="2590" y="1642.0" width="3" height="93.3" fill="#0ecb81"/>
<rect x="2593" y="1724.2" width="3" height="2.0" fill="#0ecb81"/>
<rect x="2598" y="1698.1" width="3" height="73.0" fill="#f74a60"/>
<rect x="2601" y="1724.2" width="3" height="17.0" fill="#f74a60"/>
<rect x="2606" y="1691.0" width="3" height="185.0" fill="#f74a60"/>
<rect x="2609" y="1718.8" width="3" height="120.2" fill="#f74a60"/>
<rect x="2614" y="1708.4" width="3" height="54.6" fill="#0ecb81"/>
<rect x="2617" y="1708.6" width="3" height="27.3" fill="#0ecb81"/>
<rect x="2622" y="1636.0" width="3" height="216.0" fill="#0ecb81"/>
<rect x="2625" y="1679.2" width="3" height="140.4" fill="#0ecb81"/>
<rect x="2630" y="1670.5" width="3" height="54.2" fill="#f74a60"/>
<rect x="2633" y="1679.3" width="3" height="42.2" fill="#f74a60"/>
<rect x="2638" y="1605.0" width="3" height="128.9" fill="#0ecb81"/>
<rect x="2641" y="1639.1" width="3" height="82.5" fill="#0ecb81"/>
<rect x="2646" y="1637.4" width="3" height="90.9" fill="#f74a60"/>
<rect x="2649" y="1639.1" width="3" height="77.2" fill="#f74a60"/>
<rect x="2653" y="1665.6" width="3" height="93.4" fill="#0ecb81"/>
<rect x="2656" y="1675.3" width="3" height="41.0" fill="#0ecb81"/>
<rect x="2661" y="1647.9" width="3" height="45.2" fill="#0ecb81"/>
<rect x="2664" y="1658.0" width="3" height="17.4" fill="#0ecb81"/>
<rect x="2669" y="1548.1" width="3" height="118.9" fill="#0ecb81"/>
<rect x="2672" y="1558.0" width="3" height="100.0" fill="#0ecb81"/>
<rect x="2677" y="1554.0" width="3" height="80.5" fill="#f74a60"/>
<rect x="2680" y="1558.0" width="3" height="73.9" fill="#f74a60"/>
<rect x="2685" y="1612.3" width="3" height="41.5" fill="#f74a60"/>
<rect x="2688" y="1631.9" width="3" height="12.2" fill="#f74a60"/>
<rect x="2693" y="1530.5" width="3" height="121.4" fill="#0ecb81"/>
<rect x="2696" y="1549.1" width="3" height="95.0" fill="#0ecb81"/>
<rect x="2701" y="1506.0" width="3" height="133.9" fill="#f74a60"/>
<rect x="2704" y="1549.1" width="3" height="74.2" fill="#f74a60"/>
<rect x="2709" y="1540.8" width="3" height="86.9" fill="#0ecb81"/>
<rect x="2712" y="1556.7" width="3" height="66.6" fill="#0ecb81"/>
<rect x="2717" y="1539.6" width="3" height="47.1" fill="#f74a60"/>
<rect x="2720" y="1556.7" width="3" height="13.4" fill="#f74a60"/>
<rect x="2725" y="1544.1" width="3" height="34.0" fill="#0ecb81"/>
<rect x="2728" y="1548.5" width="3" height="21.6" fill="#0ecb81"/>
<rect x="2733" y="1540.8" width="3" height="126.2" fill="#f74a60"/>
<rect x="2736" y="1548.5" width="3" height="32.4" fill="#f74a60"/>
<rect x="2741" y="1543.1" width="3" height="55.8" fill="#0ecb81"/>
<rect x="2744" y="1557.7" width="3" height="23.2" fill="#0ecb81"/>
<rect x="2749" y="1519.2" width="3" height="53.7" fill="#0ecb81"/>
<rect x="2752" y="1530.5" width="3" height="27.2" fill="#0ecb81"/>
<rect x="2757" y="1507.9" width="3" height="25.0" fill="#0ecb81"/>
<rect x="2760" y="1524.7" width="3" height="5.8" fill="#0ecb81"/>
<rect x="2764" y="1549.0" width="3" height="55.8" fill="#f74a60"/>
<rect x="2767" y="1549.0" width="3" height="47.1" fill="#f74a60"/>
<rect x="2772" y="1582.4" width="3" height="21.8" fill="#0ecb81"/>
<rect x="2775" y="1588.2" width="3" height="7.9" fill="#0ecb81"/>
<rect x="2780" y="1549.0" width="3" height="52.8" fill="#f74a60"/>
<rect x="2783" y="1588.2" width="3" height="7.4" fill="#f74a60"/>
<rect x="2788" y="1595.3" width="3" height="11.4" fill="#f74a60"/>
<rect x="2791" y="1595.6" width="3" height="2.4" fill="#f74a60"/>
<rect x="2796" y="1594.8" width="3" height="65.2" fill="#f74a60"/>
<rect x="2799" y="1598.1" width="3" height="4.3" fill="#f74a60"/>
<rect x="2804" y="1596.1" width="3" height="31.6" fill="#f74a60"/>
<rect x="2807" y="1602.4" width="3" height="22.8" fill="#f74a60"/>
<rect x="2812" y="1605.1" width="3" height="21.9" fill="#0ecb81"/>
<rect x="2815" y="1606.6" width="3" height="18.6" fill="#0ecb81"/>
<rect x="2820" y="1583.0" width="3" height="28.0" fill="#0ecb81"/>
<rect x="2823" y="1583.9" width="3" height="22.7" fill="#0ecb81"/>
<rect x="2828" y="1583.3" width="3" height="7.0" fill="#0ecb81"/>
<rect x="2831" y="1583.7" width="3" height="2.0" fill="#0ecb81"/>
<rect x="2836" y="1553.1" width="3" height="38.4" fill="#0ecb81"/>
<rect x="2839" y="1560.4" width="3" height="23.3" fill="#0ecb81"/>
<rect x="2844" y="1559.9" width="3" height="24.3" fill="#f74a60"/>
<rect x="2847" y="1560.4" width="3" height="18.7" fill="#f74a60"/>
<rect x="2852" y="1566.1" width="3" height="14.4" fill="#0ecb81"/>
<rect x="2855" y="1575.6" width="3" height="3.5" fill="#0ecb81"/>
<rect x="2860" y="1543.0" width="3" height="65.3" fill="#f74a60"/>
<rect x="2863" y="1575.6" width="3" height="25.4" fill="#f74a60"/>
<rect x="2868" y="1599.0" width="3" height="14.5" fill="#f74a60"/>
<rect x="2871" y="1600.9" width="3" height="2.8" fill="#f74a60"/>
<rect x="2875" y="1577.1" width="3" height="35.7" fill="#0ecb81"/>
<rect x="2878" y="1586.7" width="3" height="17.0" fill="#0ecb81"/>
<rect x="2883" y="1557.6" width="3" height="38.4" fill="#0ecb81"/>
<rect x="2886" y="1565.5" width="3" height="21.2" fill="#0ecb81"/>
<rect x="2891" y="1552.4" width="3" height="20.7" fill="#0ecb81"/>
<rect x="2894" y="1555.9" width="3" height="9.7" fill="#0ecb81"/>
<rect x="2899" y="1546.9" width="3" height="76.1" fill="#f74a60"/>
<rect x="2902" y="1555.9" width="3" height="3.1" fill="#f74a60"/>
<rect x="2907" y="1557.6" width="3" height="42.8" fill="#f74a60"/>
<rect x="2910" y="1559.0" width="3" height="36.4" fill="#f74a60"/>
<rect x="2915" y="1593.3" width="3" height="17.7" fill="#f74a60"/>
<rect x="2918" y="1595.4" width="3" height="12.9" fill="#f74a60"/>
<rect x="2923" y="1585.2" width="3" height="23.5" fill="#0ecb81"/>
<rect x="2926" y="1588.4" width="3" height="19.9" fill="#0ecb81"/>
<rect x="2931" y="1565.2" width="3" height="32.6" fill="#0ecb81"/>
<rect x="2934" y="1566.8" width="3" height="21.6" fill="#0ecb81"/>
<rect x="2939" y="1475.0" width="3" height="37.0" fill="#0ecb81"/>
<rect x="2942" y="1488.8" width="3" height="23.2" fill="#0ecb81"/>
<rect x="2947" y="1480.2" width="3" height="16.7" fill="#0ecb81"/>
<rect x="2950" y="1482.0" width="3" height="6.8" fill="#0ecb81"/>
<rect x="2955" y="1389.0" width="3" height="106.4" fill="#0ecb81"/>
<rect x="2958" y="1468.2" width="3" height="13.8" fill="#0ecb81"/>
<rect x="2963" y="1449.7" width="3" height="32.0" fill="#0ecb81"/>
<rect x="2966" y="1458.7" width="3" height="9.5" fill="#0ecb81"/>
<rect x="2971" y="1403.8" width="3" height="108.2" fill="#0ecb81"/>
<rect x="2974" y="1419.1" width="3" height="39.6" fill="#0ecb81"/>
<rect x="2979" y="1406.8" width="3" height="32.6" fill="#f74a60"/>
<rect x="2982" y="1419.1" width="3" height="16.3" fill="#f74a60"/>
<rect x="2986" y="1265.0" width="3" height="136.0" fill="#0ecb81"/>
<rect x="2989" y="1292.2" width="3" height="88.4" fill="#0ecb81"/>
<rect x="2994" y="1142.0" width="3" height="123.0" fill="#0ecb81"/>
<rect x="2997" y="1166.6" width="3" height="80.0" fill="#0ecb81"/>
<rect x="3002" y="1220.5" width="3" height="38.5" fill="#0ecb81"/>
<rect x="3005" y="1221.4" width="3" height="30.0" fill="#0ecb81"/>
<rect x="3010" y="1105.0" width="3" height="135.3" fill="#0ecb81"/>
<rect x="3013" y="1164.1" width="3" height="57.3" fill="#0ecb81"/>
<rect x="3018" y="1105.0" width="3" height="129.0" fill="#0ecb81"/>
<rect x="3021" y="1130.8" width="3" height="83.9" fill="#0ecb81"/>
<rect x="3026" y="1130.3" width="3" height="128.7" fill="#0ecb81"/>
<rect x="3029" y="1130.9" width="3" height="56.5" fill="#0ecb81"/>
<rect x="3034" y="1122.6" width="3" height="71.2" fill="#f74a60"/>
<rect x="3037" y="1130.9" width="3" height="53.0" fill="#f74a60"/>
<rect x="3042" y="1182.4" width="3" height="22.4" fill="#f74a60"/>
<rect x="3045" y="1183.9" width="3" height="18.3" fill="#f74a60"/>
<rect x="3050" y="1129.0" width="3" height="73.2" fill="#0ecb81"/>
<rect x="3053" y="1190.5" width="3" height="11.7" fill="#0ecb81"/>
<rect x="3058" y="1168.1" width="3" height="53.9" fill="#0ecb81"/>
<rect x="3061" y="1169.3" width="3" height="21.2" fill="#0ecb81"/>
<rect x="3066" y="1150.0" width="3" height="26.1" fill="#0ecb81"/>
<rect x="3069" y="1156.8" width="3" height="12.5" fill="#0ecb81"/>
<line x1="209" y1="2181.5" x2="3081" y2="2181.5" stroke="#e2e2e2" stroke-width="2" stroke-dasharray="12 6"/>
<line x1="209" y1="408.5" x2="3081" y2="408.5" stroke="#8a8fb0" stroke-width="1.2" stroke-dasharray="10 5" opacity="0.6"/>
<line x1="209.5" y1="408" x2="209.5" y2="2180" stroke="#8a8fb0" stroke-width="1.2" stroke-dasharray="8 5" opacity="0.5"/>
<text x="589" y="1208" font-size="250" fill="rgba(0,0,0,0.34)" text-anchor="start" textLength="2112" lengthAdjust="spacingAndGlyphs" >www.coinglass.com</text>
<text x="3104" y="418.7" font-size="37.5" fill="#000" text-anchor="start" textLength="117" lengthAdjust="spacingAndGlyphs" >109713</text>
<text x="3104" y="876.5" font-size="37.5" fill="#000" text-anchor="start" textLength="117" lengthAdjust="spacingAndGlyphs" >100000</text>
<text x="3104" y="1347.4" font-size="37.5" fill="#000" text-anchor="start" textLength="98" lengthAdjust="spacingAndGlyphs" >90000</text>
<text x="3104" y="1819" font-size="37.5" fill="#000" text-anchor="start" textLength="98" lengthAdjust="spacingAndGlyphs" >80000</text>
<text x="3104" y="2188.8" font-size="37.5" fill="#000" text-anchor="start" textLength="97" lengthAdjust="spacingAndGlyphs" >72105</text>
<rect x="217" y="2209" width="2871" height="179" fill="#eef2fd"/>
<path d="M217.0,2245.0 L258.0,2244.0 L280.0,2268.0 L296.5,2255.0 L329.0,2258.0 L370.5,2242.0 L415.6,2246.0 L457.0,2258.0 L496.0,2284.0 L522.0,2258.0 L547.5,2267.6 L599.0,2267.6 L612.0,2276.0 L663.0,2277.0 L753.0,2269.5 L779.0,2278.5 L805.0,2272.0 L863.0,2269.5 L991.5,2280.0 L1065.5,2269.5 L1101.0,2276.0 L1178.0,2280.0 L1197.5,2295.0 L1216.7,2309.0 L1255.0,2322.0 L1294.0,2338.0 L1319.7,2325.5 L1365.0,2317.0 L1377.6,2285.6 L1403.0,2296.5 L1422.7,2321.0 L1448.0,2312.6 L1487.0,2292.0 L1506.0,2306.0 L1538.5,2316.0 L1583.5,2317.0 L1600.0,2328.7 L1609.0,2337.6 L1624.4,2326.5 L1633.0,2345.6 L1640.0,2345.6 L1657.7,2333.0 L1664.0,2335.0 L1673.0,2328.7 L1682.0,2333.0 L1691.0,2328.7 L1697.6,2333.0 L1704.0,2326.5 L1720.0,2328.7 L1728.7,2339.8 L1760.0,2323.4 L1777.5,2324.3 L1791.0,2323.4 L1808.6,2323.4 L1817.5,2331.0 L1826.0,2325.0 L1833.0,2330.0 L1857.0,2324.3 L1866.0,2325.0 L1877.0,2329.6 L1888.5,2334.0 L1897.0,2329.6 L1922.0,2323.4 L1928.5,2314.5 L1946.0,2320.0 L1953.0,2324.3 L1968.0,2323.4 L1986.0,2325.0 L2013.0,2324.3 L2026.0,2326.5 L2048.0,2320.7 L2061.6,2315.4 L2081.6,2307.9 L2097.0,2314.5 L2112.6,2310.0 L2123.7,2311.9 L2137.0,2310.0 L2146.0,2315.4 L2161.5,2313.2 L2183.7,2313.2 L2208.0,2324.3 L2217.0,2323.4 L2226.0,2325.0 L2234.7,2331.4 L2261.0,2328.7 L2274.7,2331.0 L2292.4,2332.3 L2310.0,2329.6 L2321.0,2329.6 L2339.0,2320.7 L2352.3,2320.7 L2359.0,2324.3 L2368.0,2315.4 L2376.7,2331.0 L2385.6,2328.7 L2399.0,2333.0 L2410.0,2328.7 L2425.6,2329.6 L2432.0,2323.4 L2461.0,2328.7 L2476.6,2326.5 L2487.7,2329.6 L2505.5,2346.5 L2514.3,2353.0 L2521.0,2353.0 L2530.0,2344.0 L2541.0,2343.0 L2552.0,2341.0 L2570.0,2354.0 L2583.6,2354.0 L2592.0,2331.6 L2615.0,2332.7 L2625.0,2342.0 L2657.0,2325.7 L2695.0,2320.5 L2726.0,2324.7 L2772.0,2319.4 L2800.0,2326.4 L2848.0,2321.0 L2894.0,2321.0 L2932.0,2324.0 L2953.0,2320.5 L2963.0,2311.0 L3002.0,2307.0 L3015.7,2289.0 L3040.0,2288.0 L3061.0,2291.6 L3088.0,2291.0 L3088,2388 L217,2388 Z" fill="#dbe4fa" stroke="none"/>
<path d="M217.0,2245.0 L258.0,2244.0 L280.0,2268.0 L296.5,2255.0 L329.0,2258.0 L370.5,2242.0 L415.6,2246.0 L457.0,2258.0 L496.0,2284.0 L522.0,2258.0 L547.5,2267.6 L599.0,2267.6 L612.0,2276.0 L663.0,2277.0 L753.0,2269.5 L779.0,2278.5 L805.0,2272.0 L863.0,2269.5 L991.5,2280.0 L1065.5,2269.5 L1101.0,2276.0 L1178.0,2280.0 L1197.5,2295.0 L1216.7,2309.0 L1255.0,2322.0 L1294.0,2338.0 L1319.7,2325.5 L1365.0,2317.0 L1377.6,2285.6 L1403.0,2296.5 L1422.7,2321.0 L1448.0,2312.6 L1487.0,2292.0 L1506.0,2306.0 L1538.5,2316.0 L1583.5,2317.0 L1600.0,2328.7 L1609.0,2337.6 L1624.4,2326.5 L1633.0,2345.6 L1640.0,2345.6 L1657.7,2333.0 L1664.0,2335.0 L1673.0,2328.7 L1682.0,2333.0 L1691.0,2328.7 L1697.6,2333.0 L1704.0,2326.5 L1720.0,2328.7 L1728.7,2339.8 L1760.0,2323.4 L1777.5,2324.3 L1791.0,2323.4 L1808.6,2323.4 L1817.5,2331.0 L1826.0,2325.0 L1833.0,2330.0 L1857.0,2324.3 L1866.0,2325.0 L1877.0,2329.6 L1888.5,2334.0 L1897.0,2329.6 L1922.0,2323.4 L1928.5,2314.5 L1946.0,2320.0 L1953.0,2324.3 L1968.0,2323.4 L1986.0,2325.0 L2013.0,2324.3 L2026.0,2326.5 L2048.0,2320.7 L2061.6,2315.4 L2081.6,2307.9 L2097.0,2314.5 L2112.6,2310.0 L2123.7,2311.9 L2137.0,2310.0 L2146.0,2315.4 L2161.5,2313.2 L2183.7,2313.2 L2208.0,2324.3 L2217.0,2323.4 L2226.0,2325.0 L2234.7,2331.4 L2261.0,2328.7 L2274.7,2331.0 L2292.4,2332.3 L2310.0,2329.6 L2321.0,2329.6 L2339.0,2320.7 L2352.3,2320.7 L2359.0,2324.3 L2368.0,2315.4 L2376.7,2331.0 L2385.6,2328.7 L2399.0,2333.0 L2410.0,2328.7 L2425.6,2329.6 L2432.0,2323.4 L2461.0,2328.7 L2476.6,2326.5 L2487.7,2329.6 L2505.5,2346.5 L2514.3,2353.0 L2521.0,2353.0 L2530.0,2344.0 L2541.0,2343.0 L2552.0,2341.0 L2570.0,2354.0 L2583.6,2354.0 L2592.0,2331.6 L2615.0,2332.7 L2625.0,2342.0 L2657.0,2325.7 L2695.0,2320.5 L2726.0,2324.7 L2772.0,2319.4 L2800.0,2326.4 L2848.0,2321.0 L2894.0,2321.0 L2932.0,2324.0 L2953.0,2320.5 L2963.0,2311.0 L3002.0,2307.0 L3015.7,2289.0 L3040.0,2288.0 L3061.0,2291.6 L3088.0,2291.0" fill="none" stroke="#8db1f7" stroke-width="1.6" stroke-linejoin="round" shape-rendering="auto"/>
<rect x="198" y="2277" width="45" height="52" rx="19" ry="21" fill="#343849" filter="url(#hs)"/>
<rect x="213.5" y="2293.5" width="4.5" height="19" fill="#9ca2b6"/>
<rect x="223" y="2293.5" width="4.5" height="19" fill="#9ca2b6"/>
<rect x="3062" y="2277" width="45" height="52" rx="19" ry="21" fill="#343849" filter="url(#hs)"/>
<rect x="3077.5" y="2293.5" width="4.5" height="19" fill="#9ca2b6"/>
<rect x="3087" y="2293.5" width="4.5" height="19" fill="#9ca2b6"/>
<text x="214.0" y="2231.6" font-size="36" fill="#000" text-anchor="middle" >25 Jan</text>
<text x="357.55" y="2231.6" font-size="36" fill="#000" text-anchor="middle" >30 Jan</text>
<text x="501.1" y="2231.6" font-size="36" fill="#000" text-anchor="middle" >3 Feb</text>
<text x="644.6500000000001" y="2231.6" font-size="36" fill="#000" text-anchor="middle" >8 Feb</text>
<text x="788.2" y="2231.6" font-size="36" fill="#000" text-anchor="middle" >12 Feb</text>
<text x="931.75" y="2231.6" font-size="36" fill="#000" text-anchor="middle" >17 Feb</text>
<text x="1075.3000000000002" y="2231.6" font-size="36" fill="#000" text-anchor="middle" >21 Feb</text>
<text x="1218.8500000000001" y="2231.6" font-size="36" fill="#000" text-anchor="middle" >26 Feb</text>
<text x="1362.4" y="2231.6" font-size="36" fill="#000" text-anchor="middle" >2 Mar</text>
<text x="1505.95" y="2231.6" font-size="36" fill="#000" text-anchor="middle" >7 Mar</text>
<text x="1649.5" y="2231.6" font-size="36" fill="#000" text-anchor="middle" >11 Mar</text>
<text x="1793.0500000000002" y="2231.6" font-size="36" fill="#000" text-anchor="middle" >16 Mar</text>
<text x="1936.6000000000001" y="2231.6" font-size="36" fill="#000" text-anchor="middle" >20 Mar</text>
<text x="2080.15" y="2231.6" font-size="36" fill="#000" text-anchor="middle" >25 Mar</text>
<text x="2223.7000000000003" y="2231.6" font-size="36" fill="#000" text-anchor="middle" >29 Mar</text>
<text x="2367.25" y="2231.6" font-size="36" fill="#000" text-anchor="middle" >3 Apr</text>
<text x="2510.8" y="2231.6" font-size="36" fill="#000" text-anchor="middle" >7 Apr</text>
<text x="2654.3500000000004" y="2231.6" font-size="36" fill="#000" text-anchor="middle" >12 Apr</text>
<text x="2797.9" y="2231.6" font-size="36" fill="#000" text-anchor="middle" >16 Apr</text>
<text x="2941.4500000000003" y="2231.6" font-size="36" fill="#000" text-anchor="middle" >21 Apr</text>
<text x="48" y="2373" font-size="74" fill="rgba(110,110,110,0.22)" text-anchor="start" textLength="1197" lengthAdjust="spacingAndGlyphs" >© 2025 CoinGlass, all rights reserved</text>
<text x="2566" y="2373" font-size="74" fill="rgba(110,110,110,0.22)" text-anchor="start" textLength="667" lengthAdjust="spacingAndGlyphs" >2025-04-25 13:02:47</text></svg></body></html>
